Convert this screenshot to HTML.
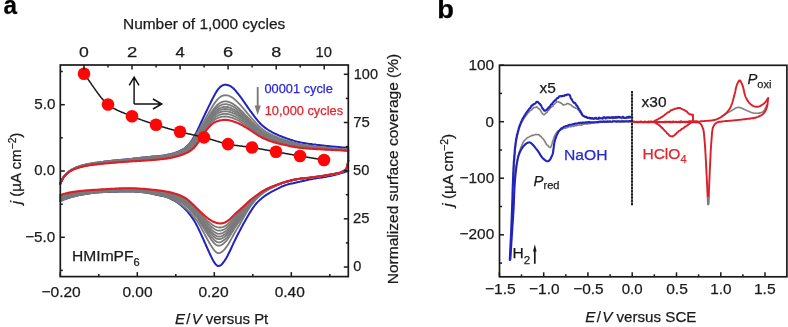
<!DOCTYPE html>
<html><head><meta charset="utf-8"><style>
html,body{margin:0;padding:0;background:#fff;width:788px;height:327px;overflow:hidden}
svg{display:block;will-change:transform;font-family:"Liberation Sans",sans-serif}
</style></head><body>
<svg width="788" height="327" viewBox="0 0 788 327" font-family='"Liberation Sans", sans-serif'>
<g fill="none" stroke-linejoin="round" stroke-linecap="round">
<path d="M60.3,183.5l1-2.4 1-2.1 1-1.7 1-1.3 1-1.1 1-1 1-1 1-.8 1-.8 1-.7 1-.7 1-.6 1-.5 1-.5 1-.5 1-.4 1-.4 1-.4 1-.3 1-.4 1-.3 1-.2 1-.3 1-.2 1-.3 1-.2 1-.2 1-.2 1-.2 1-.1 1-.2 1-.2 1-.2 1-.1 1-.2 1-.1 1-.1 1-.2 1-.1 1-.2 1-.1 1-.1 1-.1 1-.2 1-.1 1-.1 1-.1 1-.1 1-.1 1-.2 1-.1 1-.1 1-.1 1-.1 1-.1 1-.1 1-.1 1-.1 1-.1 1-.1 1-.1 1 0 1-.1 1-.1 1-.1 1-.1 1-.1 1-.1 1-.1 1-.1 1-.1 1-.1 1-.2 1-.1 1-.1 1-.1 1-.1 1-.1 1-.2 1-.1 1-.1 1-.1 1-.1 1-.1 1-.1 1-.1 1-.1 1-.1 1-.1 1-.1 1-.1 1-.1 1-.1 1 0 1-.1 1-.1 1 0 1-.1 1-.1 1-.1 1-.2 1-.1 1-.1 1-.2 1-.2 1-.2 1-.2 1-.2 1-.2 1-.2 1-.3 1-.3 1-.2 1-.3 1-.4 1-.3 1-.4 1-.4 1-.4 1-.5 1-.5 1-.5 1-.6 1-.6 1-.8 1-.8 1-.9 1-1 1-1.2 1-1.2 1-1.4 1-1.5 1-1.6 1-1.7 1-1.9 1-1.9 1-2 1-2.1 1-2.1 1-2.2 1-2.2 1-2.2 1-2.1 1-2.1 1-2.1 1-2 1-2.1 1-2 1-2 1-2 1-2.1 1-2 1-1.9 1-1.9 1-1.9 1-1.7 1-1.5 1-1.4 1-1.1 1-1 1-.8 1-.6 1-.4 1-.3 1-.1 1 0 1 .2 1 .3 1 .4 1 .5 1 .6 1 .8 1 .8 1 1 1 1.1 1 1.2 1 1.2 1 1.2 1 1.3 1 1.3 1 1.4 1 1.4 1 1.4 1 1.5 1 1.4 1 1.5 1 1.4 1 1.5 1 1.4 1 1.4 1 1.3 1 1.4 1 1.3 1 1.4 1 1.3 1 1.2 1 1.3 1 1.2 1 1.1 1 1.1 1 1 1 .9 1 .9 1 .8 1 .8 1 .7 1 .7 1 .7 1 .6 1 .6 1 .5 1 .6 1 .5 1 .5 1 .5 1 .4 1 .5 1 .4 1 .5 1 .4 1 .4 1 .4 1 .4 1 .3 1 .4 1 .4 1 .3 1 .4 1 .3 1 .4 1 .3 1 .3 1 .3 1 .3 1 .3 1 .2 1 .3 1 .2 1 .2 1 .3 1 .2 1 .1 1 .2 1 .2 1 .2 1 .1 1 .2 1 .1 1 .2 1 .1 1 .1 1 .2 1 .1 1 .1 1 .1 1 .2 1 .1 1 .1 1 .1 1 .1 1 .1 1 .2 1 .1 1 .1 1 .1 1 .1 1 .1 1 .1 1 .1 1 .1 1 .1 1 .1 1 .1 1 .1 1 .1 1 0 1 .1 1 .1 1 .1 1 .1 1 .1 1 .1 1 .1 1 .1 1 .1 1 .1 1 .1 1 .1" stroke="#2222bc" stroke-width="2"/>
<path d="M60.3,201l1-.4 1-.4 1-.4 1-.4 1-.3 1-.4 1-.3 1-.4 1-.3 1-.3 1-.3 1-.3 1-.2 1-.3 1-.3 1-.2 1-.2 1-.3 1-.2 1-.2 1-.1 1-.2 1-.2 1-.2 1-.1 1-.2 1-.2 1-.1 1-.2 1-.1 1-.2 1-.1 1-.1 1-.1 1-.1 1-.1 1-.1 1-.1 1-.1 1 0 1-.1 1 0 1-.1 1 0 1 0 1-.1 1 0 1-.1 1 0 1 0 1-.1 1 0 1 0 1-.1 1 0 1 0 1 0 1-.1 1 0 1 0 1 0 1 0 1-.1 1 0 1 0 1 0 1 0 1 0 1 0 1 0 1 0 1 0 1 .1 1 0 1 .1 1 0 1 .1 1 .1 1 .1 1 0 1 .1 1 .1 1 .1 1 .1 1 .1 1 .2 1 .1 1 .2 1 .2 1 .1 1 .3 1 .2 1 .2 1 .2 1 .3 1 .2 1 .2 1 .2 1 .2 1 .2 1 .2 1 .2 1 .2 1 .3 1 .2 1 .3 1 .4 1 .3 1 .4 1 .5 1 .5 1 .5 1 .5 1 .6 1 .6 1 .6 1 .7 1 .7 1 .7 1 .8 1 .9 1 .8 1 .9 1 1 1 1 1 1 1 1.1 1 1.2 1 1.2 1 1.3 1 1.3 1 1.4 1 1.6 1 1.5 1 1.7 1 1.9 1 1.9 1 2 1 2.1 1 2.1 1 2.2 1 2.2 1 2.2 1 2.3 1 2.2 1 2.3 1 2.2 1 2.3 1 2.2 1 2.1 1 2.1 1 2 1 1.8 1 1.7 1 1.4 1 1.1 1 .8 1 .3 1-.1 1-.5 1-.7 1-1 1-1.2 1-1.4 1-1.5 1-1.6 1-1.8 1-1.9 1-2 1-2.1 1-2.2 1-2.1 1-2.2 1-2.1 1-2.1 1-2 1-2 1-2 1-1.9 1-1.9 1-1.9 1-1.9 1-1.8 1-1.8 1-1.8 1-1.8 1-1.7 1-1.7 1-1.7 1-1.7 1-1.5 1-1.6 1-1.4 1-1.4 1-1.3 1-1.2 1-1.1 1-1 1-1 1-.9 1-.8 1-.9 1-.7 1-.8 1-.7 1-.7 1-.6 1-.6 1-.6 1-.6 1-.6 1-.5 1-.5 1-.6 1-.5 1-.5 1-.5 1-.5 1-.5 1-.5 1-.5 1-.4 1-.4 1-.4 1-.4 1-.3 1-.3 1-.3 1-.2 1-.3 1-.2 1-.2 1-.2 1-.3 1-.2 1-.2 1-.2 1-.2 1-.2 1-.3 1-.2 1-.3 1-.2 1-.2 1-.3 1-.2 1-.2 1-.2 1-.3 1-.2 1-.1 1-.2 1-.2 1-.2 1-.1 1-.2 1-.2 1-.1 1-.2 1-.1 1-.2 1-.1 1-.2 1-.1 1-.2 1-.2 1-.2 1-.2 1-.2 1-.2 1-.2 1-.2 1-.2 1-.3 1-.2 1-.3 1-.3 1-.2 1-.3 1-.3 1-.3 1-.3 1-.3 1-.3 1-.3 1-.3 1-.4 1-.3" stroke="#2222bc" stroke-width="2"/>
<path d="M60.3,183.5l1-2.4 1-2.1 1-1.7 1-1.3 1-1.1 1-1 1-1 1-.8 1-.8 1-.7 1-.7 1-.6 1-.5 1-.5 1-.5 1-.4 1-.4 1-.4 1-.3 1-.4 1-.3 1-.2 1-.3 1-.2 1-.3 1-.2 1-.2 1-.2 1-.2 1-.1 1-.2 1-.2 1-.2 1-.1 1-.2 1-.1 1-.1 1-.2 1-.1 1-.2 1-.1 1-.1 1-.1 1-.2 1-.1 1-.1 1-.1 1-.1 1-.1 1-.2 1-.1 1-.1 1-.1 1-.1 1-.1 1-.1 1-.1 1-.1 1-.1 1-.1 1-.1 1 0 1-.1 1-.1 1-.1 1-.1 1-.1 1-.1 1-.1 1-.1 1-.1 1-.1 1-.2 1-.1 1-.1 1-.1 1-.1 1-.1 1-.2 1-.1 1-.1 1-.1 1-.1 1-.1 1-.1 1-.1 1-.1 1-.1 1-.1 1-.1 1-.1 1-.1 1-.1 1 0 1-.1 1-.1 1 0 1-.1 1-.1 1-.1 1-.2 1-.1 1-.1 1-.2 1-.2 1-.2 1-.2 1-.2 1-.2 1-.2 1-.3 1-.3 1-.2 1-.3 1-.4 1-.3 1-.4 1-.4 1-.4 1-.5 1-.5 1-.5 1-.6 1-.6 1-.8 1-.8 1-.9 1-1 1-1 1-1.2 1-1.1 1-1.3 1-1.4 1-1.4 1-1.5 1-1.6 1-1.7 1-1.7 1-1.8 1-1.7 1-1.8 1-1.7 1-1.7 1-1.7 1-1.7 1-1.9 1-1.8 1-1.7 1-1.8 1-1.7 1-1.7 1-1.7 1-1.6 1-1.5 1-1.4 1-1.4 1-1.2 1-1 1-.9 1-.7 1-.7 1-.4 1-.4 1-.2 1-.1 1 .1 1 .1 1 .2 1 .4 1 .4 1 .6 1 .6 1 .7 1 .8 1 .8 1 .9 1 1 1 1 1 1 1 1.1 1 1.1 1 1.2 1 1.1 1 1.2 1 1.2 1 1.2 1 1.2 1 1.2 1 1.2 1 1.2 1 1.1 1 1.2 1 1.1 1 1.1 1 1.2 1 1 1 1.1 1 1 1 1 1 .9 1 .9 1 .8 1 .8 1 .7 1 .7 1 .6 1 .6 1 .6 1 .5 1 .6 1 .4 1 .5 1 .5 1 .4 1 .4 1 .4 1 .4 1 .4 1 .4 1 .4 1 .3 1 .4 1 .3 1 .3 1 .4 1 .3 1 .3 1 .3 1 .3 1 .3 1 .3 1 .3 1 .2 1 .3 1 .3 1 .2 1 .3 1 .2 1 .2 1 .2 1 .2 1 .2 1 .2 1 .1 1 .2 1 .2 1 .1 1 .1 1 .2 1 .1 1 .2 1 .1 1 .1 1 .1 1 .1 1 .2 1 .1 1 .1 1 .1 1 .1 1 .1 1 .1 1 .1 1 .1 1 .1 1 .1 1 .1 1 .1 1 .1 1 .1 1 .1 1 .1 1 .1 1 0 1 .1 1 .1 1 .1 1 .1 1 .1 1 .1 1 .1 1 0 1 .1 1 .1 1 .1 1 0 1 .1 1 .1" stroke="#7a7a7a" stroke-width="1.8"/>
<path d="M60.3,201l1-.4 1-.4 1-.4 1-.4 1-.3 1-.4 1-.3 1-.4 1-.3 1-.3 1-.3 1-.3 1-.2 1-.3 1-.3 1-.2 1-.2 1-.3 1-.2 1-.2 1-.1 1-.2 1-.2 1-.2 1-.1 1-.2 1-.2 1-.1 1-.2 1-.1 1-.2 1-.1 1-.1 1-.1 1-.1 1-.1 1-.1 1-.1 1-.1 1 0 1-.1 1 0 1-.1 1 0 1 0 1-.1 1 0 1-.1 1 0 1 0 1-.1 1 0 1 0 1-.1 1 0 1 0 1 0 1-.1 1 0 1 0 1 0 1 0 1-.1 1 0 1 0 1 0 1 0 1 0 1 0 1 0 1 0 1 0 1 .1 1 0 1 .1 1 0 1 .1 1 .1 1 .1 1 0 1 .1 1 .1 1 .1 1 .1 1 .1 1 .2 1 .1 1 .2 1 .2 1 .1 1 .3 1 .2 1 .2 1 .2 1 .3 1 .2 1 .2 1 .2 1 .2 1 .2 1 .2 1 .2 1 .2 1 .3 1 .2 1 .3 1 .4 1 .3 1 .4 1 .5 1 .5 1 .5 1 .5 1 .5 1 .6 1 .5 1 .6 1 .6 1 .7 1 .7 1 .7 1 .7 1 .8 1 .8 1 .8 1 .9 1 .9 1 1 1 1 1 1.1 1 1.1 1 1.2 1 1.2 1 1.2 1 1.2 1 1.2 1 1.2 1 1.6 1 1.7 1 1.8 1 1.8 1 1.9 1 1.8 1 1.8 1 1.9 1 1.8 1 1.8 1 1.8 1 1.8 1 1.7 1 1.6 1 1.6 1 1.4 1 1.3 1 1.1 1 .9 1 .6 1 .3 1 0 1-.4 1-.5 1-.7 1-.9 1-1.1 1-1.2 1-1.3 1-1.4 1-1.5 1-1.7 1-1.8 1-1.8 1-1.8 1-1.8 1-1.8 1-1.7 1-1.7 1-1.7 1-1.6 1-1.6 1-1.7 1-1.9 1-1.8 1-1.8 1-1.8 1-1.7 1-1.7 1-1.6 1-1.6 1-1.6 1-1.4 1-1.4 1-1.4 1-1.2 1-1.2 1-1.2 1-1 1-1 1-1 1-.9 1-.9 1-.8 1-.8 1-.8 1-.7 1-.7 1-.7 1-.6 1-.6 1-.6 1-.5 1-.5 1-.5 1-.5 1-.5 1-.5 1-.4 1-.5 1-.5 1-.4 1-.4 1-.4 1-.3 1-.3 1-.4 1-.3 1-.2 1-.3 1-.3 1-.3 1-.2 1-.3 1-.2 1-.2 1-.2 1-.3 1-.2 1-.1 1-.2 1-.2 1-.1 1-.2 1-.1 1-.1 1-.1 1-.1 1-.1 1-.1 1-.1 1-.1 1-.2 1-.1 1-.1 1-.1 1-.2 1-.1 1-.2 1-.1 1-.1 1-.2 1-.1 1-.2 1-.2 1-.1 1-.2 1-.1 1-.2 1-.2 1-.2 1-.1 1-.2 1-.2 1-.2 1-.1 1-.2 1-.2 1-.2 1-.2 1-.3 1-.2 1-.4 1-.3 1-.4 1-.5 1-.6 1-.7 1-1.1 1-1.9 1-5.9" stroke="#7a7a7a" stroke-width="1.8"/>
<path d="M60.3,183.6l1-2.3 1-2.1 1-1.8 1-1.3 1-1.1 1-1 1-1 1-.8 1-.8 1-.7 1-.6 1-.6 1-.5 1-.5 1-.5 1-.4 1-.4 1-.3 1-.3 1-.3 1-.3 1-.3 1-.3 1-.2 1-.2 1-.2 1-.2 1-.2 1-.2 1-.2 1-.1 1-.2 1-.2 1-.1 1-.1 1-.2 1-.1 1-.2 1-.1 1-.1 1-.1 1-.1 1-.2 1-.1 1-.1 1-.1 1-.1 1-.1 1-.1 1-.1 1-.2 1-.1 1-.1 1 0 1-.1 1-.1 1-.1 1-.1 1-.1 1-.1 1-.1 1-.1 1-.1 1-.1 1 0 1-.1 1-.1 1-.1 1-.1 1-.1 1-.1 1-.1 1-.1 1-.1 1-.1 1-.1 1-.1 1-.1 1-.1 1-.1 1-.1 1-.1 1-.1 1-.1 1-.1 1-.1 1-.1 1-.1 1-.1 1-.1 1-.1 1 0 1-.1 1-.1 1-.1 1 0 1-.1 1-.1 1-.1 1-.1 1-.1 1-.2 1-.1 1-.1 1-.2 1-.2 1-.2 1-.2 1-.2 1-.2 1-.2 1-.3 1-.2 1-.3 1-.3 1-.4 1-.3 1-.4 1-.4 1-.4 1-.5 1-.5 1-.5 1-.6 1-.6 1-.7 1-.8 1-.9 1-1 1-1 1-1 1-1.2 1-1.2 1-1.4 1-1.4 1-1.5 1-1.6 1-1.6 1-1.7 1-1.7 1-1.7 1-1.7 1-1.7 1-1.6 1-1.6 1-1.7 1-1.7 1-1.7 1-1.5 1-1.6 1-1.5 1-1.5 1-1.4 1-1.3 1-1.2 1-1.1 1-1 1-.8 1-.8 1-.6 1-.5 1-.4 1-.3 1-.2 1 0 1 0 1 .1 1 .3 1 .3 1 .4 1 .4 1 .6 1 .6 1 .6 1 .8 1 .7 1 .9 1 .8 1 .9 1 1 1 .9 1 1 1 1 1 1.1 1 1 1 1.1 1 1 1 1.1 1 1 1 1 1 1.1 1 1 1 1 1 1 1 1 1 1 1 1 1 .9 1 .9 1 .8 1 .8 1 .8 1 .7 1 .6 1 .6 1 .6 1 .6 1 .5 1 .5 1 .5 1 .4 1 .5 1 .4 1 .4 1 .4 1 .4 1 .3 1 .4 1 .3 1 .4 1 .3 1 .3 1 .3 1 .3 1 .3 1 .3 1 .3 1 .3 1 .3 1 .2 1 .3 1 .3 1 .2 1 .3 1 .2 1 .2 1 .3 1 .2 1 .2 1 .2 1 .1 1 .2 1 .1 1 .2 1 .1 1 .2 1 .1 1 .1 1 .1 1 .2 1 .1 1 .1 1 .1 1 .1 1 .1 1 .1 1 .1 1 .1 1 .1 1 .1 1 .1 1 .1 1 .1 1 .1 1 .1 1 .1 1 0 1 .1 1 .1 1 .1 1 .1 1 0 1 .1 1 .1 1 .1 1 0 1 .1 1 .1 1 .1 1 .1 1 0 1 .1 1 .1 1 .1 1 0 1 .1 1 .1 1 .1" stroke="#7a7a7a" stroke-width="1.8"/>
<path d="M60.3,199.5l1-.4 1-.4 1-.3 1-.4 1-.3 1-.3 1-.4 1-.3 1-.3 1-.2 1-.3 1-.3 1-.2 1-.2 1-.3 1-.2 1-.2 1-.2 1-.2 1-.1 1-.2 1-.2 1-.1 1-.2 1-.1 1-.2 1-.1 1-.2 1-.1 1-.1 1-.1 1-.2 1-.1 1-.1 1-.1 1 0 1-.1 1-.1 1-.1 1 0 1-.1 1 0 1-.1 1 0 1-.1 1 0 1 0 1-.1 1 0 1-.1 1 0 1 0 1-.1 1 0 1-.1 1 0 1 0 1 0 1-.1 1 0 1 0 1 0 1-.1 1 0 1 0 1 0 1 0 1 0 1 0 1 0 1 0 1 0 1 0 1 .1 1 0 1 .1 1 .1 1 0 1 .1 1 .1 1 .1 1 .1 1 .1 1 .1 1 .1 1 .1 1 .1 1 .2 1 .1 1 .2 1 .2 1 .1 1 .2 1 .2 1 .2 1 .2 1 .2 1 .2 1 .2 1 .2 1 .2 1 .2 1 .2 1 .2 1 .2 1 .3 1 .3 1 .3 1 .4 1 .4 1 .4 1 .4 1 .5 1 .5 1 .4 1 .5 1 .6 1 .5 1 .6 1 .6 1 .6 1 .7 1 .7 1 .7 1 .8 1 .8 1 .9 1 1 1 .9 1 1.1 1 1.1 1 1.1 1 1.1 1 1.1 1 1.2 1 1.2 1 1.1 1 1.4 1 1.6 1 1.6 1 1.6 1 1.6 1 1.6 1 1.6 1 1.6 1 1.6 1 1.5 1 1.6 1 1.4 1 1.5 1 1.4 1 1.3 1 1.2 1 1.1 1 .9 1 .8 1 .5 1 .2 1 0 1-.2 1-.4 1-.6 1-.8 1-.8 1-1 1-1.1 1-1.2 1-1.4 1-1.4 1-1.6 1-1.6 1-1.6 1-1.6 1-1.6 1-1.5 1-1.5 1-1.5 1-1.4 1-1.5 1-1.5 1-1.6 1-1.6 1-1.6 1-1.6 1-1.5 1-1.5 1-1.4 1-1.5 1-1.3 1-1.3 1-1.3 1-1.2 1-1.2 1-1 1-1.1 1-.9 1-1 1-.9 1-.8 1-.9 1-.8 1-.7 1-.8 1-.7 1-.6 1-.6 1-.6 1-.6 1-.5 1-.5 1-.5 1-.5 1-.4 1-.5 1-.5 1-.4 1-.5 1-.4 1-.4 1-.4 1-.4 1-.3 1-.3 1-.3 1-.3 1-.3 1-.3 1-.3 1-.2 1-.3 1-.2 1-.3 1-.2 1-.2 1-.2 1-.2 1-.2 1-.2 1-.2 1-.1 1-.1 1-.2 1-.1 1-.1 1-.1 1-.1 1-.1 1-.1 1-.1 1-.1 1-.1 1-.2 1-.1 1-.1 1-.2 1-.1 1-.1 1-.2 1-.1 1-.2 1-.1 1-.2 1-.2 1-.1 1-.2 1-.1 1-.2 1-.2 1-.2 1-.1 1-.2 1-.2 1-.2 1-.2 1-.1 1-.2 1-.2 1-.3 1-.3 1-.3 1-.3 1-.5 1-.4 1-.6 1-.8 1-1.1 1-1.9 1-6.1" stroke="#7a7a7a" stroke-width="1.8"/>
<path d="M60.3,183.7l1-2.4 1-2.1 1-1.7 1-1.3 1-1.2 1-1 1-.9 1-.9 1-.7 1-.7 1-.6 1-.6 1-.5 1-.5 1-.5 1-.4 1-.3 1-.4 1-.3 1-.3 1-.3 1-.3 1-.2 1-.2 1-.3 1-.2 1-.2 1-.2 1-.1 1-.2 1-.2 1-.1 1-.2 1-.1 1-.2 1-.1 1-.1 1-.2 1-.1 1-.1 1-.1 1-.1 1-.2 1-.1 1-.1 1-.1 1-.1 1-.1 1-.1 1-.1 1-.1 1-.1 1-.1 1-.1 1-.1 1-.1 1-.1 1-.1 1-.1 1 0 1-.1 1-.1 1-.1 1-.1 1-.1 1-.1 1 0 1-.1 1-.1 1-.1 1-.1 1-.1 1-.1 1-.1 1-.1 1-.1 1-.1 1-.1 1-.1 1-.1 1-.1 1-.1 1-.1 1 0 1-.1 1-.1 1-.1 1-.1 1-.1 1-.1 1-.1 1 0 1-.1 1-.1 1-.1 1-.1 1 0 1-.1 1-.1 1-.1 1-.1 1-.2 1-.1 1-.1 1-.2 1-.2 1-.1 1-.2 1-.2 1-.3 1-.2 1-.2 1-.3 1-.3 1-.3 1-.3 1-.3 1-.4 1-.4 1-.4 1-.4 1-.5 1-.5 1-.5 1-.7 1-.6 1-.8 1-.8 1-.9 1-.9 1-1.1 1-1.1 1-1.2 1-1.2 1-1.4 1-1.5 1-1.5 1-1.6 1-1.6 1-1.7 1-1.7 1-1.7 1-1.6 1-1.6 1-1.7 1-1.6 1-1.6 1-1.6 1-1.5 1-1.5 1-1.4 1-1.4 1-1.3 1-1.2 1-1.1 1-1 1-.9 1-.8 1-.7 1-.5 1-.5 1-.3 1-.3 1-.1 1-.1 1 0 1 .2 1 .2 1 .3 1 .3 1 .5 1 .4 1 .6 1 .6 1 .7 1 .7 1 .8 1 .8 1 .8 1 .9 1 .9 1 .9 1 .9 1 1 1 1 1 1 1 .9 1 1 1 1 1 1 1 .9 1 1 1 1 1 1 1 .9 1 1 1 .9 1 .9 1 .8 1 .8 1 .7 1 .7 1 .7 1 .6 1 .6 1 .6 1 .5 1 .5 1 .5 1 .5 1 .4 1 .4 1 .4 1 .4 1 .4 1 .4 1 .3 1 .3 1 .4 1 .3 1 .3 1 .3 1 .3 1 .3 1 .3 1 .3 1 .2 1 .3 1 .3 1 .3 1 .2 1 .3 1 .2 1 .3 1 .2 1 .2 1 .2 1 .2 1 .2 1 .2 1 .1 1 .2 1 .1 1 .2 1 .1 1 .1 1 .2 1 .1 1 .1 1 .1 1 .1 1 .1 1 .1 1 .1 1 .1 1 .1 1 .1 1 .1 1 .1 1 .1 1 .1 1 .1 1 .1 1 0 1 .1 1 .1 1 .1 1 .1 1 0 1 .1 1 .1 1 0 1 .1 1 .1 1 .1 1 0 1 .1 1 .1 1 .1 1 0 1 .1 1 .1 1 0 1 .1 1 .1 1 .1 1 0 1 .1" stroke="#7a7a7a" stroke-width="1.8"/>
<path d="M60.3,198.8l1-.4 1-.3 1-.4 1-.3 1-.3 1-.4 1-.3 1-.3 1-.2 1-.3 1-.3 1-.2 1-.2 1-.3 1-.2 1-.2 1-.2 1-.2 1-.1 1-.2 1-.2 1-.1 1-.2 1-.1 1-.1 1-.2 1-.1 1-.1 1-.2 1-.1 1-.1 1-.1 1-.1 1-.1 1-.1 1-.1 1 0 1-.1 1-.1 1 0 1-.1 1 0 1-.1 1 0 1-.1 1 0 1-.1 1 0 1-.1 1 0 1-.1 1 0 1 0 1-.1 1 0 1 0 1-.1 1 0 1 0 1-.1 1 0 1 0 1 0 1-.1 1 0 1 0 1 0 1 0 1 0 1 0 1 0 1 0 1 .1 1 0 1 .1 1 0 1 .1 1 0 1 .1 1 .1 1 .1 1 .1 1 .1 1 .1 1 .1 1 .1 1 .1 1 .1 1 .2 1 .1 1 .2 1 .2 1 .2 1 .2 1 .1 1 .2 1 .2 1 .2 1 .2 1 .1 1 .2 1 .2 1 .2 1 .2 1 .2 1 .3 1 .2 1 .4 1 .3 1 .4 1 .3 1 .5 1 .4 1 .4 1 .5 1 .5 1 .4 1 .6 1 .5 1 .6 1 .6 1 .6 1 .7 1 .7 1 .8 1 .8 1 .8 1 1 1 .9 1 1 1 1.1 1 1.1 1 1.1 1 1.1 1 1.1 1 1.2 1 1.1 1 1.3 1 1.5 1 1.5 1 1.5 1 1.5 1 1.5 1 1.5 1 1.5 1 1.4 1 1.5 1 1.4 1 1.4 1 1.3 1 1.3 1 1.1 1 1.1 1 1 1 .9 1 .7 1 .5 1 .2 1 0 1-.2 1-.3 1-.6 1-.6 1-.8 1-.9 1-1 1-1.1 1-1.3 1-1.3 1-1.5 1-1.5 1-1.5 1-1.5 1-1.5 1-1.5 1-1.4 1-1.4 1-1.3 1-1.4 1-1.4 1-1.5 1-1.5 1-1.5 1-1.5 1-1.4 1-1.4 1-1.4 1-1.3 1-1.3 1-1.3 1-1.2 1-1.1 1-1.1 1-1 1-1 1-1 1-.9 1-.8 1-.9 1-.8 1-.8 1-.7 1-.7 1-.7 1-.6 1-.6 1-.6 1-.5 1-.6 1-.4 1-.5 1-.5 1-.5 1-.4 1-.4 1-.5 1-.4 1-.4 1-.5 1-.3 1-.4 1-.3 1-.4 1-.3 1-.3 1-.3 1-.2 1-.3 1-.3 1-.2 1-.3 1-.2 1-.2 1-.3 1-.2 1-.2 1-.2 1-.1 1-.2 1-.1 1-.2 1-.1 1-.1 1-.1 1-.1 1-.1 1-.1 1-.1 1-.1 1-.1 1-.1 1-.2 1-.1 1-.1 1-.2 1-.1 1-.2 1-.1 1-.1 1-.2 1-.2 1-.1 1-.2 1-.1 1-.2 1-.2 1-.1 1-.2 1-.2 1-.2 1-.1 1-.2 1-.2 1-.2 1-.1 1-.2 1-.2 1-.3 1-.3 1-.3 1-.4 1-.4 1-.5 1-.6 1-.7 1-1.1 1-1.9 1-6.2" stroke="#7a7a7a" stroke-width="1.8"/>
<path d="M60.3,183.7l1-2.3 1-2.1 1-1.7 1-1.4 1-1.1 1-1 1-1 1-.8 1-.8 1-.7 1-.6 1-.5 1-.5 1-.5 1-.4 1-.4 1-.4 1-.4 1-.3 1-.3 1-.3 1-.2 1-.3 1-.2 1-.2 1-.2 1-.2 1-.2 1-.2 1-.1 1-.2 1-.2 1-.1 1-.1 1-.2 1-.1 1-.1 1-.2 1-.1 1-.1 1-.1 1-.1 1-.2 1-.1 1-.1 1-.1 1-.1 1-.1 1-.1 1-.1 1-.1 1-.1 1-.1 1-.1 1-.1 1-.1 1 0 1-.1 1-.1 1-.1 1-.1 1-.1 1-.1 1 0 1-.1 1-.1 1-.1 1-.1 1-.1 1 0 1-.1 1-.1 1-.1 1-.1 1-.1 1-.1 1-.1 1-.1 1-.1 1 0 1-.1 1-.1 1-.1 1-.1 1-.1 1-.1 1-.1 1 0 1-.1 1-.1 1-.1 1-.1 1-.1 1 0 1-.1 1-.1 1-.1 1-.1 1-.1 1-.1 1-.1 1-.1 1-.1 1-.2 1-.1 1-.2 1-.2 1-.1 1-.2 1-.3 1-.2 1-.2 1-.3 1-.2 1-.3 1-.3 1-.4 1-.3 1-.4 1-.4 1-.4 1-.5 1-.4 1-.6 1-.5 1-.7 1-.7 1-.8 1-.8 1-.9 1-.9 1-1.1 1-1.1 1-1.3 1-1.3 1-1.4 1-1.5 1-1.6 1-1.6 1-1.6 1-1.7 1-1.7 1-1.6 1-1.6 1-1.6 1-1.6 1-1.6 1-1.5 1-1.4 1-1.4 1-1.4 1-1.2 1-1.2 1-1.2 1-1 1-.9 1-.8 1-.7 1-.6 1-.5 1-.4 1-.3 1-.3 1-.1 1-.1 1 .1 1 .1 1 .2 1 .3 1 .3 1 .4 1 .5 1 .5 1 .6 1 .6 1 .6 1 .7 1 .8 1 .7 1 .8 1 .9 1 .8 1 .9 1 .9 1 .9 1 .9 1 1 1 .9 1 .9 1 .9 1 .9 1 1 1 .9 1 .9 1 .9 1 .9 1 .9 1 .8 1 .8 1 .8 1 .7 1 .7 1 .6 1 .6 1 .6 1 .5 1 .5 1 .5 1 .5 1 .4 1 .4 1 .4 1 .4 1 .4 1 .4 1 .3 1 .3 1 .4 1 .3 1 .3 1 .3 1 .3 1 .3 1 .2 1 .3 1 .3 1 .3 1 .2 1 .3 1 .3 1 .2 1 .2 1 .3 1 .2 1 .2 1 .2 1 .2 1 .2 1 .2 1 .2 1 .1 1 .2 1 .1 1 .1 1 .2 1 .1 1 .1 1 .1 1 .1 1 .1 1 .1 1 .1 1 .1 1 .1 1 .1 1 .1 1 .1 1 .1 1 .1 1 0 1 .1 1 .1 1 .1 1 .1 1 .1 1 0 1 .1 1 .1 1 0 1 .1 1 .1 1 0 1 .1 1 .1 1 0 1 .1 1 .1 1 .1 1 0 1 .1 1 .1 1 0 1 .1 1 .1 1 0 1 .1 1 .1 1 .1" stroke="#7a7a7a" stroke-width="1.8"/>
<path d="M60.3,198.2l1-.4 1-.3 1-.4 1-.3 1-.3 1-.3 1-.3 1-.3 1-.3 1-.2 1-.3 1-.2 1-.2 1-.3 1-.2 1-.2 1-.1 1-.2 1-.2 1-.1 1-.2 1-.1 1-.2 1-.1 1-.1 1-.1 1-.2 1-.1 1-.1 1-.1 1-.1 1-.1 1-.1 1-.1 1-.1 1-.1 1-.1 1 0 1-.1 1 0 1-.1 1 0 1-.1 1 0 1-.1 1 0 1-.1 1 0 1-.1 1 0 1-.1 1 0 1-.1 1 0 1 0 1-.1 1 0 1 0 1-.1 1 0 1 0 1-.1 1 0 1 0 1 0 1 0 1 0 1-.1 1 0 1 0 1 .1 1 0 1 0 1 .1 1 0 1 .1 1 0 1 .1 1 .1 1 0 1 .1 1 .1 1 .1 1 .1 1 .1 1 .1 1 .1 1 .1 1 .2 1 .1 1 .2 1 .1 1 .2 1 .2 1 .2 1 .1 1 .2 1 .2 1 .1 1 .2 1 .2 1 .1 1 .2 1 .2 1 .2 1 .3 1 .2 1 .3 1 .4 1 .3 1 .4 1 .4 1 .4 1 .4 1 .4 1 .4 1 .5 1 .5 1 .5 1 .6 1 .5 1 .6 1 .7 1 .7 1 .7 1 .8 1 .8 1 .9 1 1 1 1 1 1 1 1.1 1 1 1 1.1 1 1.1 1 1.1 1 1.1 1 1.3 1 1.4 1 1.4 1 1.4 1 1.4 1 1.4 1 1.4 1 1.4 1 1.4 1 1.3 1 1.3 1 1.3 1 1.2 1 1.1 1 1.1 1 1 1 .9 1 .8 1 .6 1 .5 1 .2 1 0 1-.1 1-.3 1-.5 1-.6 1-.7 1-.8 1-.9 1-1.1 1-1.1 1-1.3 1-1.4 1-1.4 1-1.4 1-1.4 1-1.4 1-1.4 1-1.3 1-1.3 1-1.3 1-1.3 1-1.3 1-1.4 1-1.4 1-1.4 1-1.4 1-1.4 1-1.3 1-1.3 1-1.3 1-1.2 1-1.2 1-1.1 1-1.1 1-1 1-1 1-.9 1-.9 1-.9 1-.9 1-.8 1-.8 1-.7 1-.8 1-.7 1-.6 1-.6 1-.6 1-.6 1-.5 1-.5 1-.5 1-.5 1-.4 1-.5 1-.4 1-.4 1-.5 1-.4 1-.4 1-.4 1-.4 1-.3 1-.4 1-.3 1-.3 1-.3 1-.3 1-.3 1-.2 1-.3 1-.3 1-.2 1-.2 1-.3 1-.2 1-.2 1-.2 1-.2 1-.2 1-.1 1-.2 1-.1 1-.1 1-.1 1-.1 1-.1 1-.1 1-.1 1-.1 1-.1 1-.1 1-.2 1-.1 1-.1 1-.2 1-.1 1-.1 1-.2 1-.1 1-.2 1-.1 1-.2 1-.1 1-.2 1-.1 1-.2 1-.2 1-.2 1-.1 1-.2 1-.2 1-.1 1-.2 1-.2 1-.2 1-.2 1-.1 1-.3 1-.2 1-.3 1-.3 1-.4 1-.4 1-.5 1-.6 1-.7 1-1.1 1-2 1-6.2" stroke="#7a7a7a" stroke-width="1.8"/>
<path d="M60.3,183.8l1-2.3 1-2.2 1-1.7 1-1.3 1-1.2 1-1 1-.9 1-.9 1-.7 1-.7 1-.6 1-.6 1-.5 1-.4 1-.5 1-.4 1-.3 1-.4 1-.3 1-.3 1-.2 1-.3 1-.3 1-.2 1-.2 1-.2 1-.2 1-.2 1-.2 1-.1 1-.2 1-.1 1-.2 1-.1 1-.1 1-.2 1-.1 1-.1 1-.1 1-.2 1-.1 1-.1 1-.1 1-.1 1-.1 1-.1 1-.1 1-.1 1-.1 1-.1 1-.1 1-.1 1-.1 1-.1 1-.1 1-.1 1-.1 1 0 1-.1 1-.1 1-.1 1-.1 1-.1 1 0 1-.1 1-.1 1-.1 1-.1 1 0 1-.1 1-.1 1-.1 1-.1 1-.1 1-.1 1 0 1-.1 1-.1 1-.1 1-.1 1-.1 1-.1 1 0 1-.1 1-.1 1-.1 1-.1 1-.1 1 0 1-.1 1-.1 1-.1 1-.1 1 0 1-.1 1-.1 1-.1 1-.1 1-.1 1-.1 1-.1 1-.1 1-.1 1-.2 1-.1 1-.2 1-.2 1-.1 1-.2 1-.2 1-.2 1-.3 1-.2 1-.3 1-.3 1-.3 1-.3 1-.3 1-.4 1-.4 1-.4 1-.4 1-.5 1-.5 1-.5 1-.7 1-.6 1-.8 1-.7 1-.9 1-.9 1-1 1-1.1 1-1.2 1-1.3 1-1.4 1-1.5 1-1.5 1-1.6 1-1.6 1-1.7 1-1.6 1-1.7 1-1.5 1-1.6 1-1.6 1-1.5 1-1.4 1-1.4 1-1.4 1-1.3 1-1.2 1-1.1 1-1 1-1 1-.8 1-.7 1-.7 1-.5 1-.5 1-.4 1-.3 1-.2 1-.1 1-.1 1 .1 1 .1 1 .2 1 .3 1 .3 1 .4 1 .4 1 .5 1 .5 1 .6 1 .6 1 .6 1 .7 1 .8 1 .7 1 .8 1 .8 1 .8 1 .9 1 .8 1 .9 1 .9 1 .8 1 .9 1 .9 1 .9 1 .8 1 .9 1 .9 1 .9 1 .8 1 .9 1 .8 1 .7 1 .8 1 .7 1 .6 1 .6 1 .6 1 .6 1 .5 1 .5 1 .4 1 .5 1 .4 1 .4 1 .4 1 .4 1 .3 1 .4 1 .3 1 .3 1 .4 1 .3 1 .3 1 .3 1 .2 1 .3 1 .3 1 .3 1 .2 1 .3 1 .2 1 .3 1 .2 1 .3 1 .2 1 .3 1 .2 1 .2 1 .2 1 .2 1 .2 1 .1 1 .2 1 .1 1 .2 1 .1 1 .1 1 .1 1 .2 1 .1 1 .1 1 .1 1 .1 1 .1 1 .1 1 .1 1 0 1 .1 1 .1 1 .1 1 .1 1 .1 1 .1 1 0 1 .1 1 .1 1 .1 1 0 1 .1 1 .1 1 0 1 .1 1 .1 1 0 1 .1 1 .1 1 0 1 .1 1 .1 1 0 1 .1 1 .1 1 0 1 .1 1 .1 1 0 1 .1 1 .1 1 0 1 .1 1 .1" stroke="#7a7a7a" stroke-width="1.8"/>
<path d="M60.3,197.7l1-.4 1-.3 1-.4 1-.3 1-.3 1-.3 1-.3 1-.3 1-.2 1-.3 1-.2 1-.2 1-.2 1-.2 1-.2 1-.2 1-.2 1-.2 1-.1 1-.2 1-.1 1-.1 1-.2 1-.1 1-.1 1-.1 1-.2 1-.1 1-.1 1-.1 1-.1 1-.1 1-.1 1-.1 1 0 1-.1 1-.1 1-.1 1 0 1-.1 1 0 1-.1 1 0 1-.1 1 0 1-.1 1 0 1-.1 1 0 1-.1 1 0 1-.1 1 0 1-.1 1 0 1 0 1-.1 1 0 1-.1 1 0 1 0 1 0 1-.1 1 0 1 0 1 0 1 0 1 0 1 0 1 0 1 0 1 0 1 0 1 .1 1 0 1 .1 1 0 1 .1 1 .1 1 .1 1 0 1 .1 1 .1 1 .1 1 .1 1 .1 1 .1 1 .1 1 .1 1 .2 1 .1 1 .2 1 .2 1 .1 1 .2 1 .2 1 .1 1 .2 1 .1 1 .2 1 .2 1 .1 1 .2 1 .2 1 .2 1 .2 1 .3 1 .3 1 .3 1 .3 1 .3 1 .4 1 .4 1 .4 1 .4 1 .4 1 .4 1 .5 1 .5 1 .5 1 .6 1 .6 1 .6 1 .6 1 .7 1 .8 1 .8 1 .9 1 1 1 .9 1 1 1 1.1 1 1 1 1.1 1 1.1 1 1.1 1 1.1 1 1.2 1 1.3 1 1.4 1 1.3 1 1.3 1 1.4 1 1.3 1 1.3 1 1.3 1 1.2 1 1.2 1 1.2 1 1.1 1 1.1 1 1 1 .9 1 .8 1 .7 1 .6 1 .4 1 .3 1 0 1-.1 1-.3 1-.4 1-.5 1-.7 1-.7 1-.9 1-1 1-1.1 1-1.2 1-1.2 1-1.4 1-1.3 1-1.4 1-1.3 1-1.3 1-1.3 1-1.2 1-1.3 1-1.2 1-1.2 1-1.4 1-1.3 1-1.3 1-1.3 1-1.3 1-1.3 1-1.2 1-1.2 1-1.2 1-1.1 1-1.1 1-1 1-1 1-1 1-.9 1-.9 1-.8 1-.8 1-.8 1-.8 1-.7 1-.8 1-.6 1-.7 1-.6 1-.6 1-.5 1-.5 1-.5 1-.5 1-.5 1-.4 1-.4 1-.5 1-.4 1-.4 1-.4 1-.4 1-.4 1-.4 1-.4 1-.3 1-.3 1-.3 1-.3 1-.3 1-.3 1-.3 1-.2 1-.3 1-.2 1-.3 1-.2 1-.2 1-.2 1-.2 1-.2 1-.2 1-.2 1-.1 1-.1 1-.1 1-.1 1-.1 1-.1 1-.1 1-.1 1-.1 1-.2 1-.1 1-.1 1-.1 1-.1 1-.2 1-.1 1-.1 1-.2 1-.1 1-.2 1-.1 1-.2 1-.1 1-.2 1-.2 1-.1 1-.2 1-.2 1-.1 1-.2 1-.2 1-.2 1-.1 1-.2 1-.2 1-.2 1-.2 1-.2 1-.2 1-.3 1-.3 1-.4 1-.4 1-.5 1-.6 1-.8 1-1.1 1-1.9 1-6.3" stroke="#7a7a7a" stroke-width="1.8"/>
<path d="M60.3,183.8l1-2.3 1-2.1 1-1.7 1-1.4 1-1.1 1-1.1 1-.9 1-.8 1-.8 1-.7 1-.6 1-.5 1-.5 1-.5 1-.4 1-.4 1-.3 1-.3 1-.4 1-.3 1-.2 1-.3 1-.2 1-.3 1-.2 1-.2 1-.2 1-.1 1-.2 1-.2 1-.1 1-.2 1-.1 1-.2 1-.1 1-.1 1-.1 1-.2 1-.1 1-.1 1-.1 1-.1 1-.1 1-.1 1-.1 1-.1 1-.1 1-.1 1-.1 1-.1 1-.1 1-.1 1-.1 1-.1 1-.1 1-.1 1-.1 1 0 1-.1 1-.1 1-.1 1-.1 1 0 1-.1 1-.1 1-.1 1-.1 1 0 1-.1 1-.1 1-.1 1-.1 1 0 1-.1 1-.1 1-.1 1-.1 1 0 1-.1 1-.1 1-.1 1-.1 1 0 1-.1 1-.1 1-.1 1-.1 1 0 1-.1 1-.1 1-.1 1-.1 1-.1 1 0 1-.1 1-.1 1-.1 1-.1 1-.1 1-.1 1-.1 1-.1 1-.1 1-.2 1-.1 1-.2 1-.1 1-.2 1-.2 1-.2 1-.2 1-.2 1-.3 1-.2 1-.3 1-.3 1-.3 1-.3 1-.4 1-.4 1-.3 1-.5 1-.4 1-.5 1-.5 1-.6 1-.6 1-.7 1-.7 1-.9 1-.8 1-1 1-1.1 1-1.1 1-1.3 1-1.4 1-1.4 1-1.5 1-1.5 1-1.6 1-1.7 1-1.6 1-1.6 1-1.6 1-1.5 1-1.5 1-1.5 1-1.4 1-1.3 1-1.3 1-1.2 1-1.2 1-1 1-1 1-.8 1-.8 1-.6 1-.6 1-.5 1-.4 1-.4 1-.2 1-.2 1-.1 1-.1 1 .1 1 .1 1 .2 1 .2 1 .3 1 .4 1 .4 1 .4 1 .5 1 .5 1 .6 1 .6 1 .6 1 .7 1 .7 1 .7 1 .8 1 .8 1 .8 1 .8 1 .8 1 .8 1 .8 1 .8 1 .8 1 .9 1 .8 1 .8 1 .9 1 .8 1 .8 1 .8 1 .8 1 .7 1 .7 1 .7 1 .6 1 .6 1 .5 1 .6 1 .5 1 .5 1 .4 1 .5 1 .4 1 .4 1 .3 1 .4 1 .3 1 .4 1 .3 1 .3 1 .3 1 .3 1 .3 1 .3 1 .2 1 .3 1 .3 1 .2 1 .3 1 .2 1 .3 1 .2 1 .3 1 .2 1 .2 1 .3 1 .2 1 .2 1 .2 1 .2 1 .1 1 .2 1 .1 1 .2 1 .1 1 .1 1 .1 1 .2 1 .1 1 .1 1 .1 1 .1 1 .1 1 0 1 .1 1 .1 1 .1 1 .1 1 .1 1 0 1 .1 1 .1 1 .1 1 .1 1 0 1 .1 1 .1 1 0 1 .1 1 .1 1 0 1 .1 1 .1 1 0 1 .1 1 0 1 .1 1 .1 1 0 1 .1 1 0 1 .1 1 .1 1 0 1 .1 1 .1 1 0 1 .1 1 .1 1 0 1 .1" stroke="#7a7a7a" stroke-width="1.8"/>
<path d="M60.3,197.1l1-.3 1-.4 1-.3 1-.3 1-.3 1-.3 1-.3 1-.2 1-.3 1-.2 1-.2 1-.3 1-.2 1-.2 1-.1 1-.2 1-.2 1-.2 1-.1 1-.1 1-.2 1-.1 1-.1 1-.1 1-.2 1-.1 1-.1 1-.1 1-.1 1-.1 1-.1 1-.1 1-.1 1 0 1-.1 1-.1 1-.1 1 0 1-.1 1 0 1-.1 1 0 1-.1 1-.1 1 0 1-.1 1 0 1-.1 1 0 1-.1 1 0 1-.1 1 0 1 0 1-.1 1 0 1-.1 1 0 1 0 1-.1 1 0 1 0 1-.1 1 0 1 0 1 0 1 0 1 0 1 0 1 0 1 0 1 0 1 0 1 .1 1 0 1 .1 1 0 1 .1 1 .1 1 0 1 .1 1 .1 1 .1 1 .1 1 .1 1 .1 1 .1 1 .1 1 .1 1 .1 1 .2 1 .1 1 .2 1 .1 1 .2 1 .1 1 .2 1 .1 1 .2 1 .1 1 .2 1 .2 1 .1 1 .2 1 .2 1 .2 1 .3 1 .2 1 .3 1 .3 1 .3 1 .4 1 .3 1 .4 1 .4 1 .4 1 .4 1 .4 1 .5 1 .5 1 .5 1 .6 1 .6 1 .6 1 .7 1 .8 1 .8 1 .8 1 1 1 .9 1 1 1 1 1 1.1 1 1 1 1.1 1 1 1 1.1 1 1.2 1 1.2 1 1.3 1 1.3 1 1.2 1 1.3 1 1.2 1 1.2 1 1.2 1 1.1 1 1.1 1 1.1 1 1 1 1 1 .9 1 .8 1 .8 1 .6 1 .6 1 .4 1 .2 1 0 1-.1 1-.2 1-.3 1-.5 1-.6 1-.6 1-.8 1-.9 1-1.1 1-1.1 1-1.2 1-1.3 1-1.2 1-1.3 1-1.3 1-1.2 1-1.2 1-1.2 1-1.1 1-1.2 1-1.2 1-1.2 1-1.2 1-1.3 1-1.2 1-1.2 1-1.2 1-1.2 1-1.1 1-1.1 1-1.1 1-1.1 1-.9 1-1 1-.9 1-.9 1-.8 1-.8 1-.8 1-.8 1-.8 1-.7 1-.7 1-.6 1-.7 1-.6 1-.5 1-.6 1-.5 1-.4 1-.5 1-.5 1-.4 1-.4 1-.4 1-.5 1-.4 1-.4 1-.4 1-.4 1-.4 1-.3 1-.3 1-.4 1-.3 1-.3 1-.3 1-.2 1-.3 1-.3 1-.2 1-.3 1-.2 1-.2 1-.3 1-.2 1-.2 1-.2 1-.1 1-.2 1-.1 1-.1 1-.2 1-.1 1-.1 1-.1 1-.1 1-.1 1-.1 1-.1 1-.1 1-.1 1-.1 1-.1 1-.2 1-.1 1-.2 1-.1 1-.1 1-.2 1-.1 1-.2 1-.2 1-.1 1-.2 1-.1 1-.2 1-.2 1-.2 1-.1 1-.2 1-.2 1-.1 1-.2 1-.2 1-.2 1-.2 1-.2 1-.2 1-.3 1-.3 1-.4 1-.4 1-.5 1-.6 1-.8 1-1.1 1-2 1-6.3" stroke="#7a7a7a" stroke-width="1.8"/>
<path d="M60.3,183.9l1-2.3 1-2.1 1-1.8 1-1.3 1-1.2 1-1 1-1 1-.8 1-.7 1-.7 1-.6 1-.5 1-.5 1-.5 1-.4 1-.3 1-.4 1-.3 1-.3 1-.3 1-.3 1-.3 1-.2 1-.2 1-.2 1-.2 1-.2 1-.2 1-.2 1-.1 1-.2 1-.1 1-.2 1-.1 1-.1 1-.1 1-.2 1-.1 1-.1 1-.1 1-.1 1-.1 1-.1 1-.1 1-.1 1-.1 1-.1 1-.1 1-.1 1-.1 1-.1 1-.1 1-.1 1-.1 1-.1 1 0 1-.1 1-.1 1-.1 1-.1 1 0 1-.1 1-.1 1-.1 1 0 1-.1 1-.1 1-.1 1-.1 1 0 1-.1 1-.1 1-.1 1 0 1-.1 1-.1 1-.1 1 0 1-.1 1-.1 1-.1 1 0 1-.1 1-.1 1-.1 1 0 1-.1 1-.1 1-.1 1 0 1-.1 1-.1 1-.1 1-.1 1-.1 1 0 1-.1 1-.1 1-.1 1-.1 1-.1 1-.1 1-.2 1-.1 1-.1 1-.2 1-.1 1-.2 1-.2 1-.2 1-.2 1-.2 1-.2 1-.3 1-.3 1-.2 1-.3 1-.4 1-.3 1-.4 1-.3 1-.4 1-.4 1-.5 1-.5 1-.5 1-.6 1-.7 1-.6 1-.8 1-.8 1-.9 1-1.1 1-1.1 1-1.2 1-1.3 1-1.4 1-1.5 1-1.5 1-1.6 1-1.6 1-1.6 1-1.6 1-1.5 1-1.5 1-1.5 1-1.4 1-1.4 1-1.2 1-1.2 1-1.2 1-1 1-1 1-.8 1-.8 1-.7 1-.5 1-.5 1-.5 1-.3 1-.3 1-.2 1-.2 1-.1 1 0 1 0 1 .1 1 .2 1 .2 1 .3 1 .3 1 .4 1 .4 1 .4 1 .5 1 .5 1 .6 1 .5 1 .6 1 .7 1 .6 1 .7 1 .7 1 .8 1 .7 1 .7 1 .8 1 .7 1 .8 1 .8 1 .8 1 .7 1 .8 1 .8 1 .8 1 .8 1 .7 1 .8 1 .7 1 .6 1 .6 1 .6 1 .6 1 .5 1 .5 1 .5 1 .5 1 .4 1 .4 1 .4 1 .4 1 .3 1 .4 1 .3 1 .3 1 .3 1 .3 1 .3 1 .3 1 .3 1 .2 1 .3 1 .3 1 .2 1 .3 1 .2 1 .2 1 .3 1 .2 1 .3 1 .2 1 .2 1 .2 1 .2 1 .2 1 .2 1 .2 1 .1 1 .2 1 .1 1 .2 1 .1 1 .1 1 .1 1 .1 1 .1 1 .1 1 .1 1 .1 1 .1 1 .1 1 0 1 .1 1 .1 1 .1 1 0 1 .1 1 .1 1 .1 1 0 1 .1 1 .1 1 0 1 .1 1 .1 1 0 1 .1 1 0 1 .1 1 .1 1 0 1 .1 1 0 1 .1 1 0 1 .1 1 .1 1 0 1 .1 1 0 1 .1 1 .1 1 0 1 .1 1 .1 1 0 1 .1 1 .1" stroke="#7a7a7a" stroke-width="1.8"/>
<path d="M60.3,196.5l1-.4 1-.3 1-.3 1-.3 1-.3 1-.3 1-.2 1-.3 1-.2 1-.3 1-.2 1-.2 1-.2 1-.1 1-.2 1-.2 1-.1 1-.2 1-.1 1-.2 1-.1 1-.1 1-.1 1-.1 1-.1 1-.1 1-.1 1-.1 1-.1 1-.1 1-.1 1-.1 1-.1 1-.1 1 0 1-.1 1-.1 1 0 1-.1 1 0 1-.1 1 0 1-.1 1-.1 1 0 1-.1 1 0 1-.1 1 0 1-.1 1 0 1-.1 1 0 1-.1 1 0 1-.1 1 0 1 0 1-.1 1 0 1-.1 1 0 1 0 1 0 1-.1 1 0 1 0 1 0 1 0 1 0 1 0 1 0 1 .1 1 0 1 .1 1 0 1 .1 1 0 1 .1 1 .1 1 0 1 .1 1 .1 1 .1 1 .1 1 .1 1 .1 1 .1 1 .1 1 .1 1 .1 1 .2 1 .1 1 .2 1 .1 1 .1 1 .2 1 .1 1 .2 1 .1 1 .2 1 .1 1 .2 1 .1 1 .2 1 .2 1 .3 1 .2 1 .3 1 .2 1 .3 1 .4 1 .3 1 .3 1 .4 1 .4 1 .4 1 .4 1 .4 1 .5 1 .5 1 .5 1 .6 1 .6 1 .7 1 .7 1 .8 1 .8 1 .9 1 .9 1 1 1 1 1 1 1 1.1 1 1 1 1 1 1.1 1 1.1 1 1.2 1 1.1 1 1.2 1 1.2 1 1.1 1 1.1 1 1.1 1 1.1 1 1 1 1.1 1 .9 1 .9 1 .9 1 .8 1 .7 1 .7 1 .5 1 .5 1 .4 1 .2 1 .1 1-.1 1-.2 1-.3 1-.4 1-.4 1-.6 1-.7 1-.9 1-.9 1-1 1-1.2 1-1.1 1-1.2 1-1.2 1-1.2 1-1.1 1-1.1 1-1.1 1-1.1 1-1.1 1-1.1 1-1.1 1-1.2 1-1.1 1-1.1 1-1.2 1-1.1 1-1.1 1-1.1 1-1 1-1 1-1 1-.9 1-.9 1-.9 1-.8 1-.8 1-.8 1-.8 1-.7 1-.7 1-.8 1-.6 1-.7 1-.6 1-.6 1-.5 1-.5 1-.5 1-.5 1-.4 1-.5 1-.4 1-.4 1-.4 1-.4 1-.4 1-.4 1-.4 1-.4 1-.4 1-.3 1-.4 1-.3 1-.3 1-.3 1-.3 1-.3 1-.2 1-.3 1-.3 1-.2 1-.2 1-.3 1-.2 1-.2 1-.2 1-.2 1-.2 1-.1 1-.2 1-.1 1-.1 1-.1 1-.1 1-.1 1-.1 1-.1 1-.1 1-.1 1-.1 1-.1 1-.1 1-.2 1-.1 1-.1 1-.2 1-.1 1-.2 1-.1 1-.2 1-.1 1-.2 1-.1 1-.2 1-.2 1-.1 1-.2 1-.2 1-.1 1-.2 1-.2 1-.2 1-.1 1-.2 1-.2 1-.2 1-.2 1-.2 1-.3 1-.3 1-.4 1-.4 1-.5 1-.6 1-.8 1-1.1 1-2 1-6.4" stroke="#7a7a7a" stroke-width="1.8"/>
<path d="M60.3,183.9l1-2.3 1-2.1 1-1.7 1-1.3 1-1.2 1-1.1 1-.9 1-.8 1-.8 1-.6 1-.6 1-.5 1-.5 1-.5 1-.4 1-.3 1-.4 1-.3 1-.3 1-.3 1-.3 1-.2 1-.3 1-.2 1-.2 1-.2 1-.2 1-.1 1-.2 1-.2 1-.1 1-.1 1-.2 1-.1 1-.1 1-.2 1-.1 1-.1 1-.1 1-.1 1-.1 1-.1 1-.1 1-.1 1-.1 1-.1 1-.1 1-.1 1-.1 1-.1 1-.1 1-.1 1-.1 1 0 1-.1 1-.1 1-.1 1-.1 1 0 1-.1 1-.1 1-.1 1 0 1-.1 1-.1 1-.1 1 0 1-.1 1-.1 1-.1 1 0 1-.1 1-.1 1 0 1-.1 1-.1 1-.1 1 0 1-.1 1-.1 1 0 1-.1 1-.1 1 0 1-.1 1-.1 1-.1 1 0 1-.1 1-.1 1-.1 1 0 1-.1 1-.1 1-.1 1-.1 1-.1 1-.1 1-.1 1-.1 1-.1 1-.1 1-.1 1-.1 1-.2 1-.1 1-.1 1-.2 1-.2 1-.2 1-.2 1-.2 1-.2 1-.3 1-.2 1-.3 1-.3 1-.3 1-.3 1-.4 1-.3 1-.4 1-.4 1-.4 1-.5 1-.5 1-.5 1-.6 1-.6 1-.7 1-.8 1-.9 1-1 1-1 1-1.2 1-1.3 1-1.3 1-1.5 1-1.5 1-1.5 1-1.6 1-1.6 1-1.6 1-1.5 1-1.5 1-1.4 1-1.4 1-1.2 1-1.2 1-1.2 1-1 1-1 1-.8 1-.8 1-.7 1-.5 1-.5 1-.4 1-.4 1-.3 1-.3 1-.2 1-.1 1-.1 1 0 1 0 1 .1 1 .2 1 .2 1 .3 1 .3 1 .3 1 .4 1 .4 1 .4 1 .4 1 .5 1 .5 1 .6 1 .5 1 .7 1 .6 1 .6 1 .7 1 .7 1 .6 1 .7 1 .7 1 .7 1 .7 1 .7 1 .8 1 .7 1 .8 1 .7 1 .7 1 .8 1 .6 1 .7 1 .6 1 .6 1 .5 1 .6 1 .5 1 .5 1 .4 1 .5 1 .4 1 .4 1 .4 1 .3 1 .4 1 .3 1 .3 1 .3 1 .3 1 .3 1 .2 1 .3 1 .3 1 .2 1 .3 1 .2 1 .3 1 .2 1 .2 1 .3 1 .2 1 .2 1 .2 1 .3 1 .2 1 .2 1 .2 1 .2 1 .1 1 .2 1 .2 1 .1 1 .1 1 .1 1 .2 1 .1 1 .1 1 .1 1 .1 1 0 1 .1 1 .1 1 .1 1 .1 1 0 1 .1 1 .1 1 .1 1 0 1 .1 1 .1 1 0 1 .1 1 .1 1 0 1 .1 1 0 1 .1 1 .1 1 0 1 .1 1 0 1 .1 1 0 1 .1 1 0 1 .1 1 0 1 .1 1 0 1 .1 1 0 1 .1 1 .1 1 0 1 .1 1 .1 1 0 1 .1 1 0 1 .1" stroke="#7a7a7a" stroke-width="1.8"/>
<path d="M60.3,195.8l1-.3 1-.3 1-.3 1-.3 1-.3 1-.3 1-.2 1-.2 1-.3 1-.2 1-.2 1-.2 1-.2 1-.1 1-.2 1-.2 1-.1 1-.1 1-.2 1-.1 1-.1 1-.1 1-.1 1-.1 1-.1 1-.1 1-.1 1-.1 1-.1 1-.1 1 0 1-.1 1-.1 1-.1 1 0 1-.1 1-.1 1 0 1-.1 1 0 1-.1 1-.1 1 0 1-.1 1 0 1-.1 1 0 1-.1 1 0 1-.1 1-.1 1 0 1-.1 1 0 1-.1 1 0 1 0 1-.1 1 0 1-.1 1 0 1 0 1-.1 1 0 1 0 1 0 1 0 1 0 1-.1 1 .1 1 0 1 0 1 0 1 .1 1 0 1 0 1 .1 1 .1 1 0 1 .1 1 .1 1 .1 1 0 1 .1 1 .1 1 .1 1 .1 1 .1 1 .1 1 .1 1 .1 1 .1 1 .2 1 .1 1 .1 1 .2 1 .1 1 .1 1 .2 1 .1 1 .1 1 .2 1 .1 1 .2 1 .2 1 .2 1 .2 1 .2 1 .2 1 .3 1 .3 1 .2 1 .3 1 .4 1 .3 1 .3 1 .4 1 .4 1 .4 1 .4 1 .5 1 .5 1 .6 1 .5 1 .7 1 .7 1 .8 1 .8 1 .9 1 .9 1 .9 1 1 1 1 1 1 1 1 1 1 1 1 1 1.1 1 1.1 1 1.1 1 1 1 1.1 1 1.1 1 1 1 1 1 .9 1 1 1 .9 1 .8 1 .8 1 .8 1 .7 1 .6 1 .6 1 .5 1 .4 1 .3 1 .2 1 .1 1 0 1-.2 1-.2 1-.3 1-.4 1-.5 1-.7 1-.7 1-.8 1-1 1-1 1-1.1 1-1.1 1-1.1 1-1.1 1-1 1-1.1 1-1 1-1 1-1 1-1 1-1 1-1.1 1-1 1-1.1 1-1 1-1 1-1.1 1-1 1-1 1-.9 1-.9 1-.9 1-.8 1-.8 1-.8 1-.8 1-.7 1-.8 1-.7 1-.7 1-.7 1-.7 1-.6 1-.6 1-.6 1-.5 1-.5 1-.5 1-.4 1-.5 1-.4 1-.4 1-.4 1-.4 1-.4 1-.4 1-.4 1-.4 1-.4 1-.3 1-.4 1-.3 1-.3 1-.3 1-.3 1-.3 1-.3 1-.3 1-.2 1-.3 1-.2 1-.3 1-.2 1-.2 1-.2 1-.2 1-.2 1-.2 1-.1 1-.2 1-.1 1-.1 1-.1 1-.1 1-.1 1-.1 1-.1 1-.1 1-.1 1-.1 1-.1 1-.2 1-.1 1-.1 1-.1 1-.2 1-.1 1-.2 1-.1 1-.2 1-.1 1-.2 1-.1 1-.2 1-.2 1-.1 1-.2 1-.2 1-.2 1-.1 1-.2 1-.2 1-.1 1-.2 1-.2 1-.2 1-.2 1-.2 1-.3 1-.3 1-.4 1-.4 1-.5 1-.7 1-.7 1-1.2 1-2 1-6.5" stroke="#7a7a7a" stroke-width="1.8"/>
<path d="M60.3,184l1-2.3 1-2.1 1-1.7 1-1.4 1-1.1 1-1.1 1-1 1-.8 1-.7 1-.7 1-.5 1-.6 1-.4 1-.4 1-.4 1-.4 1-.3 1-.3 1-.3 1-.3 1-.3 1-.2 1-.3 1-.2 1-.2 1-.2 1-.2 1-.1 1-.2 1-.2 1-.1 1-.1 1-.2 1-.1 1-.1 1-.1 1-.1 1-.2 1-.1 1-.1 1-.1 1-.1 1-.1 1-.1 1-.1 1 0 1-.1 1-.1 1-.1 1-.1 1-.1 1-.1 1-.1 1 0 1-.1 1-.1 1-.1 1-.1 1 0 1-.1 1-.1 1-.1 1 0 1-.1 1-.1 1 0 1-.1 1-.1 1-.1 1 0 1-.1 1-.1 1 0 1-.1 1 0 1-.1 1-.1 1 0 1-.1 1 0 1-.1 1-.1 1 0 1-.1 1-.1 1 0 1-.1 1-.1 1 0 1-.1 1-.1 1-.1 1-.1 1 0 1-.1 1-.1 1-.1 1-.1 1-.1 1-.1 1-.1 1-.1 1-.1 1-.2 1-.1 1-.1 1-.2 1-.1 1-.2 1-.1 1-.2 1-.2 1-.3 1-.2 1-.3 1-.2 1-.3 1-.3 1-.3 1-.3 1-.4 1-.3 1-.4 1-.4 1-.4 1-.4 1-.5 1-.5 1-.6 1-.7 1-.7 1-.8 1-.9 1-1 1-1.1 1-1.3 1-1.3 1-1.3 1-1.5 1-1.5 1-1.6 1-1.5 1-1.6 1-1.5 1-1.4 1-1.4 1-1.3 1-1.2 1-1.1 1-1 1-1 1-.8 1-.8 1-.6 1-.6 1-.4 1-.4 1-.3 1-.3 1-.2 1-.2 1-.2 1-.1 1 0 1-.1 1 .1 1 .1 1 .1 1 .2 1 .3 1 .2 1 .3 1 .3 1 .3 1 .4 1 .4 1 .4 1 .4 1 .5 1 .5 1 .5 1 .5 1 .6 1 .6 1 .6 1 .6 1 .6 1 .6 1 .6 1 .7 1 .6 1 .7 1 .7 1 .7 1 .6 1 .7 1 .7 1 .6 1 .6 1 .5 1 .6 1 .5 1 .5 1 .5 1 .4 1 .5 1 .4 1 .4 1 .3 1 .4 1 .3 1 .4 1 .3 1 .3 1 .2 1 .3 1 .3 1 .2 1 .3 1 .2 1 .3 1 .2 1 .2 1 .2 1 .3 1 .2 1 .2 1 .2 1 .2 1 .3 1 .2 1 .2 1 .2 1 .1 1 .2 1 .2 1 .1 1 .2 1 .1 1 .1 1 .1 1 .1 1 .1 1 .1 1 .1 1 .1 1 .1 1 .1 1 0 1 .1 1 .1 1 0 1 .1 1 .1 1 0 1 .1 1 0 1 .1 1 .1 1 0 1 .1 1 0 1 .1 1 0 1 .1 1 0 1 .1 1 0 1 .1 1 0 1 .1 1 0 1 .1 1 0 1 .1 1 0 1 .1 1 0 1 .1 1 0 1 .1 1 0 1 .1 1 .1 1 0 1 .1 1 0 1 .1 0 9.2-1 6.6-1 2-1 1.1-1 .8-1 .7-1 .5-1 .4-1 .4-1 .3-1 .3-1 .2-1 .2-1 .2-1 .2-1 .1-1 .2-1 .2-1 .2-1 .1-1 .2-1 .2-1 .1-1 .2-1 .2-1 .1-1 .2-1 .2-1 .1-1 .2-1 .1-1 .1-1 .2-1 .1-1 .2-1 .1-1 .1-1 .1-1 .2-1 .1-1 .1-1 .1-1 .1-1 0-1 .1-1 .1-1 .1-1 .1-1 .2-1 .1-1 .2-1 .1-1 .2-1 .2-1 .2-1 .2-1 .3-1 .2-1 .3-1 .2-1 .3-1 .3-1 .2-1 .3-1 .3-1 .3-1 .3-1 .4-1 .3-1 .4-1 .3-1 .4-1 .4-1 .4-1 .4-1 .3-1 .4-1 .4-1 .4-1 .5-1 .4-1 .5-1 .5-1 .5-1 .5-1 .6-1 .6-1 .6-1 .7-1 .7-1 .7-1 .7-1 .7-1 .7-1 .8-1 .7-1 .8-1 .8-1 .8-1 .9-1 .9-1 .9-1 .9-1 1-1 .9-1 .9-1 1-1 .9-1 .9-1 .9-1 .9-1 .9-1 .9-1 .9-1 1-1 .9-1 1-1 1-1 1-1 .9-1 .8-1 .8-1 .6-1 .5-1 .4-1 .3-1 .3-1 .1-1 .1-1-.1-1-.1-1-.2-1-.2-1-.4-1-.4-1-.4-1-.5-1-.6-1-.6-1-.6-1-.8-1-.7-1-.8-1-.8-1-.9-1-.9-1-.9-1-1-1-.9-1-1-1-1-1-1-1-1-1-.9-1-1-1-1-1-.9-1-1-1-.9-1-.9-1-.9-1-.8-1-.7-1-.7-1-.6-1-.5-1-.5-1-.5-1-.4-1-.4-1-.4-1-.4-1-.3-1-.3-1-.3-1-.3-1-.3-1-.2-1-.2-1-.3-1-.2-1-.2-1-.2-1-.1-1-.2-1-.2-1-.1-1-.1-1-.2-1-.1-1-.1-1-.1-1-.2-1-.1-1-.1-1-.1-1-.1-1-.1-1-.1-1-.1-1-.1-1-.1-1-.1-1-.1-1-.1-1 0-1-.1-1-.1-1 0-1-.1-1-.1-1 0-1-.1-1-.1-1 0-1 0-1-.1-1 0-1 0-1 0-1 0-1 0-1 0-1 0-1 .1-1 0-1 0-1 .1-1 0-1 0-1 .1-1 0-1 .1-1 0-1 .1-1 0-1 .1-1 0-1 .1-1 .1-1 0-1 .1-1 0-1 .1-1 0-1 .1-1 .1-1 0-1 .1-1 0-1 .1-1 .1-1 0-1 .1-1 0-1 .1-1 .1-1 0-1 .1-1 .1-1 .1-1 0-1 .1-1 .1-1 .1-1 .1-1 .1-1 .1-1 .1-1 .1-1 .1-1 .1-1 .2-1 .1-1 .1-1 .2-1 .2-1 .2-1 .1-1 .2-1 .3-1 .2-1 .2-1 .3-1 .2-1 .3-1 .3-1 .3-1 .3" stroke="#dc1e28" stroke-width="2.1"/>
</g>
<path d="M84,73.7l.3 .4 .3 .4 .3 .4 .3 .4 .3 .4 .3 .4 .3 .4 .3 .4 .3 .5 .3 .4 .3 .4 .3 .4 .3 .4 .3 .5 .3 .4 .3 .4 .3 .5 .3 .4 .3 .4 .3 .4 .3 .5 .3 .4 .3 .4 .3 .5 .3 .4 .3 .4 .3 .5 .3 .4 .3 .4 .3 .5 .3 .4 .3 .4 .3 .5 .3 .4 .3 .4 .3 .5 .3 .4 .3 .4 .3 .4 .3 .5 .3 .4 .3 .4 .3 .4 .3 .4 .3 .5 .3 .4 .3 .4 .3 .4 .3 .4 .3 .4 .3 .4 .3 .4 .3 .4 .3 .4 .3 .4 .3 .3 .3 .4 .4 .4 .3 .4 .3 .3 .3 .4 .3 .4 .3 .3 .4 .4 .3 .3 .3 .4 .3 .3 .4 .3 .3 .4 .3 .3 .3 .3 .4 .3 .3 .3 .3 .3 .4 .3 .3 .3 .4 .3 .3 .3 .4 .3 .4 .4 .5 .3 .4 .3 .4 .3 .4 .3 .5 .3 .4 .3 .4 .3 .5 .2 .4 .3 .5 .3 .4 .2 .5 .3 .4 .2 .5 .2 .4 .3 .5 .2 .4 .2 .5 .3 .4 .2 .5 .2 .4 .2 .5 .2 .4 .2 .5 .2 .5 .2 .4 .2 .5 .2 .4 .2 .5 .2 .5 .2 .4 .2 .5 .1 .5 .2 .4 .2 .5 .2 .5 .2 .4 .1 .5 .2 .5 .2 .4 .2 .5 .2 .4 .1 .5 .2 .5 .2 .4 .2 .5 .2 .5 .1 .4 .2 .5 .2 .4 .2 .5 .2 .5 .2 .4 .2 .5 .2 .5 .2 .5 .2 .5 .2 .4 .2 .5 .2 .5 .1 .5 .2 .4 .2 .5 .2 .5 .2 .5 .2 .5 .1 .4 .2 .5 .2 .5 .2 .5 .1 .4 .2 .5 .2 .5 .2 .5 .1 .5 .2 .5 .2 .4 .1 .5 .2 .5 .2 .5 .1 .5 .2 .4 .2 .5 .1 .5 .2 .5 .2 .5 .1 .4 .2 .5 .1 .5 .2 .5 .2 .5 .1 .5 .2 .4 .1 .5 .2 .5 .2 .5 .1 .5 .2 .5 .1 .4 .2 .5 .1 .5 .2 .5 .2 .5 .1 .4 .2 .5 .1 .5 .2 .5 .1 .4 .2 .5 .1 .5 .2 .5 .1 .5 .2 .4 .1 .5 .2 .5 .1 .5 .2 .5 .1 .4 .1 .5 .2 .5 .1 .5 .2 .5 .1 .4 .2 .5 .1 .5 .1 .5 .2 .5 .1 .4 .2 .5 .1 .5 .1 .5 .2 .5 .1 .4 .1 .5 .2 .5 .1 .5 .1 .5 .2 .4 .1 .5 .1 .5 .2 .5 .1 .5 .1 .4 .2 .5 .1 .5 .1 .5 .2 .5 .1 .5 .1 .4 .1 .5 .2 .5 .1 .5 .1 .5 .2 .5 .1 .5 .1 .4 .1 .5 .1 .5 .2 .5 .1 .5 .1 .5 .1 .5 .1 .5 .1 .5 .2 .4 .1 .5 .1 .5 .1 .5 .1 .5 .1 .5 .1 .5 .1 .5 .1 .5 .1 .5 .2 .5 .1 .4 .1 .5 .1 .5 .1 .5 .1 .5 .1 .5 .1 .5 .1 .5 .1 .5 .1 .5 .2 .4 .1 .5 .1 .5 .1 .5 .1 .5 .1 .5 .1 .5 .1 .5 .2 .5 .1 .5 .1 .4 .1 .5 .1 .5 .2 .5 .1 .5 .1 .5 .1 .5 .2 .5 .1 .5 .1 .5 .2 .4 .1 .5 .1 .5 .2 .5 .1 .5 .2 .5 .1 .5 .1 .5 .2 .5 .1 .4 .2 .5 .1 .5 .2 .5 .1 .5 .2 .5 .1 .5 .2 .5 .1 .5 .2 .4 .1 .5 .2 .5 .1 .5 .2 .5 .1 .5 .1 .5 .2 .5 .1 .5 .2 .4 .1 .5 .2 .5 .1 .5 .1 .5 .2 .5 .1 .5 .1 .5 .2 .5 .1 .5 .1 .4 .1 .5 .1 .5 .2 .5 .1 .5 .1 .5 .1 .5 .1 .5 .1 .5 .1 .5 .1 .5 .1 .5 .1 .5 .1 .5 .1 .5 0 .5 .1 .5 .1 .5 .1 .5 .1 .5 0 .5 .1 .5 .1 .5 0 .5 .1 .5 .1 .5 0 .5 .1 .5 .1 .5 0 .5 .1 .5 0 .5 .1 .5 .1 .5 0 .5 .1 .5 0 .5 .1 .5 .1 .5 0 .5 .1 .5 0 .5 .1 .5 .1 .5 0 .5 .1 .5 .1 .5 0 .5 .1 .5 .1 .5 0 .5 .1 .5 .1 .5 0 .5 .1 .5 .1 .5 .1 .5 .1 .5 0 .5 .1 .5 .1 .5 .1 .5 .1 .5 .1 .5 .1 .5 0 .5 .1 .5 .1 .5 .1 .5 .1 .5 .1 .5 .1 .5 .1 .5 .1 .5 0 .5 .1 .5 .1 .5 .1 .5 .1 .5 .1 .5 .1 .5 .1 .5 .1 .5 .1 .5 .1 .5 .1 .5 0 .5 .1 .5 .1 .5 .1 .5 .1 .5 .1 .5 .1 .5 .1 .5 .1 .5 .1 .5 .1 .5 .1 .5 .1 .5 0 .5 .1 .5 .1 .5 .1 .5 .1 .5 .1 .5 .1 .5 .1 .5 .1 .5 0 .5 .1 .5 .1 .5 .1 .5 .1 .5 .1 .5 .1 .5 .1 .5 0 .5 .1 .5 .1 .5 .1 .5 .1 .5 .1 .5 .1 .5 .1 .5 .1 .5 0 .5 .1 .5 .1 .5 .1 .5 .1 .5 .1 .5 .1 .5 .1 .5 0 .5 .1 .5 .1 .5 .1 .5 .1 .5 .1 .5 .1 .5 .1 .5 0 .5 .1 .5 .1 .5 .1 .5 .1 .5 .1 .5 .1 .5 0 .5 .1 .5 .1 .5 .1 .5 .1 .5 .1 .5 .1 .5 0 .5 .1 .5 .1 .5 .1 .5 .1 .5 .1 .5 0 .5 .1 .5 .1 .5 .1 .5 .1 .5 .1 .5 0 .5 .1 .5 .1 .5 .1 .5 .1 .5 .1 .5 0 .5 .1 .5 .1 .5 .1 .5 .1 .5 .1 .5 0 .5 .1 .5 .1 .5 .1 .5 .1 .5 .1 .5 0 .5 .1 .5 .1 .5 .1 .5 .1 .5 .1 .5 0 .5 .1 .5 .1 .5 .1 .5 .1 .5 .1 .5 0 .5 .1 .5 .1" fill="none" stroke="#1a1a1a" stroke-width="1.5"/>
<circle cx="84" cy="73.7" r="6.3" fill="#fc0606"/>
<circle cx="108" cy="104.5" r="6.3" fill="#fc0606"/>
<circle cx="132" cy="116.2" r="6.3" fill="#fc0606"/>
<circle cx="156" cy="124.8" r="6.3" fill="#fc0606"/>
<circle cx="180" cy="131.8" r="6.3" fill="#fc0606"/>
<circle cx="204" cy="137.4" r="6.3" fill="#fc0606"/>
<circle cx="228" cy="144.1" r="6.3" fill="#fc0606"/>
<circle cx="252" cy="147.5" r="6.3" fill="#fc0606"/>
<circle cx="276" cy="151.8" r="6.3" fill="#fc0606"/>
<circle cx="300" cy="156" r="6.3" fill="#fc0606"/>
<circle cx="324" cy="160" r="6.3" fill="#fc0606"/>
<rect x="60.3" y="65.0" width="288.0" height="211.60000000000002" fill="none" stroke="#1a1a1a" stroke-width="1.7"/>
<line x1="60.3" y1="276.6" x2="60.3" y2="272.1" stroke="#1a1a1a" stroke-width="1.5"/>
<line x1="98.8" y1="276.6" x2="98.8" y2="274.1" stroke="#1a1a1a" stroke-width="1.5"/>
<line x1="137.3" y1="276.6" x2="137.3" y2="272.1" stroke="#1a1a1a" stroke-width="1.5"/>
<line x1="175.8" y1="276.6" x2="175.8" y2="274.1" stroke="#1a1a1a" stroke-width="1.5"/>
<line x1="214.3" y1="276.6" x2="214.3" y2="272.1" stroke="#1a1a1a" stroke-width="1.5"/>
<line x1="252.8" y1="276.6" x2="252.8" y2="274.1" stroke="#1a1a1a" stroke-width="1.5"/>
<line x1="291.3" y1="276.6" x2="291.3" y2="272.1" stroke="#1a1a1a" stroke-width="1.5"/>
<line x1="329.8" y1="276.6" x2="329.8" y2="274.1" stroke="#1a1a1a" stroke-width="1.5"/>
<line x1="84" y1="65" x2="84" y2="69.5" stroke="#1a1a1a" stroke-width="1.5"/>
<line x1="108" y1="65" x2="108" y2="67.5" stroke="#1a1a1a" stroke-width="1.5"/>
<line x1="132" y1="65" x2="132" y2="69.5" stroke="#1a1a1a" stroke-width="1.5"/>
<line x1="156.1" y1="65" x2="156.1" y2="67.5" stroke="#1a1a1a" stroke-width="1.5"/>
<line x1="180.1" y1="65" x2="180.1" y2="69.5" stroke="#1a1a1a" stroke-width="1.5"/>
<line x1="204.1" y1="65" x2="204.1" y2="67.5" stroke="#1a1a1a" stroke-width="1.5"/>
<line x1="228.1" y1="65" x2="228.1" y2="69.5" stroke="#1a1a1a" stroke-width="1.5"/>
<line x1="252.1" y1="65" x2="252.1" y2="67.5" stroke="#1a1a1a" stroke-width="1.5"/>
<line x1="276.2" y1="65" x2="276.2" y2="69.5" stroke="#1a1a1a" stroke-width="1.5"/>
<line x1="300.2" y1="65" x2="300.2" y2="67.5" stroke="#1a1a1a" stroke-width="1.5"/>
<line x1="324.2" y1="65" x2="324.2" y2="69.5" stroke="#1a1a1a" stroke-width="1.5"/>
<line x1="60.3" y1="270.4" x2="62.8" y2="270.4" stroke="#1a1a1a" stroke-width="1.5"/>
<line x1="60.3" y1="237.3" x2="64.8" y2="237.3" stroke="#1a1a1a" stroke-width="1.5"/>
<line x1="60.3" y1="204.2" x2="62.8" y2="204.2" stroke="#1a1a1a" stroke-width="1.5"/>
<line x1="60.3" y1="171" x2="64.8" y2="171" stroke="#1a1a1a" stroke-width="1.5"/>
<line x1="60.3" y1="137.8" x2="62.8" y2="137.8" stroke="#1a1a1a" stroke-width="1.5"/>
<line x1="60.3" y1="104.7" x2="64.8" y2="104.7" stroke="#1a1a1a" stroke-width="1.5"/>
<line x1="60.3" y1="71.5" x2="62.8" y2="71.5" stroke="#1a1a1a" stroke-width="1.5"/>
<line x1="348.3" y1="267" x2="343.8" y2="267" stroke="#1a1a1a" stroke-width="1.5"/>
<line x1="348.3" y1="242.9" x2="345.8" y2="242.9" stroke="#1a1a1a" stroke-width="1.5"/>
<line x1="348.3" y1="218.8" x2="343.8" y2="218.8" stroke="#1a1a1a" stroke-width="1.5"/>
<line x1="348.3" y1="194.7" x2="345.8" y2="194.7" stroke="#1a1a1a" stroke-width="1.5"/>
<line x1="348.3" y1="170.7" x2="343.8" y2="170.7" stroke="#1a1a1a" stroke-width="1.5"/>
<line x1="348.3" y1="146.6" x2="345.8" y2="146.6" stroke="#1a1a1a" stroke-width="1.5"/>
<line x1="348.3" y1="122.5" x2="343.8" y2="122.5" stroke="#1a1a1a" stroke-width="1.5"/>
<line x1="348.3" y1="98.4" x2="345.8" y2="98.4" stroke="#1a1a1a" stroke-width="1.5"/>
<line x1="348.3" y1="74.3" x2="343.8" y2="74.3" stroke="#1a1a1a" stroke-width="1.5"/>
<g font-family='"Liberation Sans", sans-serif' stroke-width="0.25">
<text x="3.6" y="14.2" textLength="13.5" lengthAdjust="spacingAndGlyphs" fill="#000" stroke="#000"><tspan font-size="26" font-weight="bold">a</tspan></text>
<text x="123" y="28.5" textLength="162.3" lengthAdjust="spacingAndGlyphs" fill="#1a1a1a" stroke="#1a1a1a"><tspan font-size="15.5">Number of 1,000 cycles</tspan></text>
<text x="79.1" y="56.6" textLength="9.8" lengthAdjust="spacingAndGlyphs" fill="#1a1a1a" stroke="#1a1a1a"><tspan font-size="15.5">0</tspan></text>
<text x="126.9" y="56.6" textLength="10.3" lengthAdjust="spacingAndGlyphs" fill="#1a1a1a" stroke="#1a1a1a"><tspan font-size="15.5">2</tspan></text>
<text x="175.5" y="56.6" textLength="9.3" lengthAdjust="spacingAndGlyphs" fill="#1a1a1a" stroke="#1a1a1a"><tspan font-size="15.5">4</tspan></text>
<text x="223" y="56.6" textLength="10.1" lengthAdjust="spacingAndGlyphs" fill="#1a1a1a" stroke="#1a1a1a"><tspan font-size="15.5">6</tspan></text>
<text x="271.2" y="56.6" textLength="10" lengthAdjust="spacingAndGlyphs" fill="#1a1a1a" stroke="#1a1a1a"><tspan font-size="15.5">8</tspan></text>
<text x="315.5" y="56.6" textLength="16.4" lengthAdjust="spacingAndGlyphs" fill="#1a1a1a" stroke="#1a1a1a"><tspan font-size="15.5">10</tspan></text>
<text x="34.2" y="109.2" textLength="21.2" lengthAdjust="spacingAndGlyphs" fill="#1a1a1a" stroke="#1a1a1a"><tspan font-size="15.5">5.0</tspan></text>
<text x="34.2" y="175.2" textLength="20.8" lengthAdjust="spacingAndGlyphs" fill="#1a1a1a" stroke="#1a1a1a"><tspan font-size="15.5">0.0</tspan></text>
<text x="25.2" y="241.6" textLength="30.1" lengthAdjust="spacingAndGlyphs" fill="#1a1a1a" stroke="#1a1a1a"><tspan font-size="15.5">−5.0</tspan></text>
<text x="353.8" y="78.6" textLength="24.2" lengthAdjust="spacingAndGlyphs" fill="#1a1a1a" stroke="#1a1a1a"><tspan font-size="15.5">100</tspan></text>
<text x="353.2" y="126.8" textLength="16.6" lengthAdjust="spacingAndGlyphs" fill="#1a1a1a" stroke="#1a1a1a"><tspan font-size="15.5">75</tspan></text>
<text x="353" y="175.1" textLength="16.3" lengthAdjust="spacingAndGlyphs" fill="#1a1a1a" stroke="#1a1a1a"><tspan font-size="15.5">50</tspan></text>
<text x="352.9" y="222.9" textLength="16.5" lengthAdjust="spacingAndGlyphs" fill="#1a1a1a" stroke="#1a1a1a"><tspan font-size="15.5">25</tspan></text>
<text x="353.2" y="271.2" textLength="8.1" lengthAdjust="spacingAndGlyphs" fill="#1a1a1a" stroke="#1a1a1a"><tspan font-size="15.5">0</tspan></text>
<text x="41.4" y="296.7" textLength="39.4" lengthAdjust="spacingAndGlyphs" fill="#1a1a1a" stroke="#1a1a1a"><tspan font-size="15.5">−0.20</tspan></text>
<text x="122.4" y="296.7" textLength="30.2" lengthAdjust="spacingAndGlyphs" fill="#1a1a1a" stroke="#1a1a1a"><tspan font-size="15.5">0.00</tspan></text>
<text x="198.4" y="296.7" textLength="30.3" lengthAdjust="spacingAndGlyphs" fill="#1a1a1a" stroke="#1a1a1a"><tspan font-size="15.5">0.20</tspan></text>
<text x="274.7" y="296.7" textLength="30.1" lengthAdjust="spacingAndGlyphs" fill="#1a1a1a" stroke="#1a1a1a"><tspan font-size="15.5">0.40</tspan></text>
<text x="175" y="324" textLength="93.3" lengthAdjust="spacingAndGlyphs" fill="#1a1a1a" stroke="#1a1a1a"><tspan font-size="15.5" font-style="italic">E</tspan><tspan font-size="15.5"> / </tspan><tspan font-size="15.5" font-style="italic">V</tspan><tspan font-size="15.5"> versus Pt</tspan></text>
<text transform="translate(21,206) rotate(-90)" x="1.7" y="0" textLength="71.7" lengthAdjust="spacingAndGlyphs" fill="#1a1a1a" stroke="#1a1a1a"><tspan font-size="15.5" font-style="italic">j</tspan><tspan font-size="15.5"> (µA cm</tspan><tspan font-size="10.5" dy="-5.5">−2</tspan><tspan font-size="15.5" dy="5.5">)</tspan></text>
<text transform="translate(398.2,283) rotate(-90)" x="-1.3" y="0" textLength="230.6" lengthAdjust="spacingAndGlyphs" fill="#1a1a1a" stroke="#1a1a1a"><tspan font-size="15.5">Normalized surface coverage (%)</tspan></text>
<text x="72.1" y="261.2" textLength="67.6" lengthAdjust="spacingAndGlyphs" fill="#1a1a1a" stroke="#1a1a1a"><tspan font-size="15.5">HMImPF</tspan><tspan font-size="11" dy="4.5">6</tspan></text>
<text x="264.5" y="93" textLength="68.3" lengthAdjust="spacingAndGlyphs" fill="#2a2ad2" stroke="#2a2ad2"><tspan font-size="12.5">00001 cycle</tspan></text>
<text x="264.7" y="115.3" textLength="78.4" lengthAdjust="spacingAndGlyphs" fill="#e0262e" stroke="#e0262e"><tspan font-size="12.5">10,000 cycles</tspan></text>
</g>
<path d="M134.1,104 L134.1,77.5 M129.2,85.4 L134.1,77.2 L139,85.4 M134.1,104 L161.5,104 M153,99 L161.8,104 L153,109" fill="none" stroke="#111" stroke-width="1.45"/>
<line x1="257.7" y1="87" x2="257.7" y2="107" stroke="#7a7a7a" stroke-width="1.9"/><path d="M254.6,105.5 L260.8,105.5 L257.7,115 Z" fill="#7a7a7a"/>
<g fill="none" stroke-linejoin="round" stroke-linecap="round">
<path d="M513.5,175l.1-1 .1-1 0-1 .1-1.1 .1-1 .1-1.1 0-1 .1-1.1 .1-1 0-1.1 .1-1.1 .1-1 0-1.1 .1-1.1 .1-1 0-1.1 .1-1 .1-1.1 0-1 .1-1.1 .1-1 .1-1 .1-1 0-1 .1-1 .1-1 .1-.9 .1-1 .1-.9 .2-.9 .1-.9 .1-.9 .1-.9 .2-.8 .1-.8 .2-1.2 .2-1.1 .3-1.2 .2-1.1 .2-1 .3-1 .2-1.1 .3-.9 .3-1 .3-1 .3-.9 .3-.9 .3-.9 .4-.9 .3-.9 .4-.9 .4-1 .5-.9 .5-1 .5-.9 .6-.9 .5-.9 .6-.9 .6-.8 .6-.8 .5-.8 .6-.7 .6-.7 .5-.7 .8-.9 .9-.9 .8-.7 .9-.4 .8-.8 .8-1.1 1.2-.7 1.2 0 1.2-1 .9 1.2 .9 .7 .8 .6 .8 .8 .7 .9 .6 1.1 .6 1.2 .7 .9 .7 .5 .9 .3 .9-.8 1-1 1-.6 .9-1.6 .7-.7 .6-.3 .7-1.4 .6-.8 .7-.2 .7-.8 .8-.3 .8-1.1 .8-1 .9-.8 .9-.9 .9-.7 .9 0 1 .7 1 0 1.1 .9 1 .4 1 1.4 .9-.4 1-.2 .9 0 1-1 .9 .1 1 .2 1.1 .8 1 .2 1.1 1.2 .9 .5 .9 .9 1 0 .9 .8 1 .1 .9 1 .7 .6 .7 .6 .7 1.5 .7 .5 .7 1.5 .7 .5 .7 .8 .7 .8 .8 .6 .9 0 .9 .7 .9 .1 1 .5 1.1-.1 1.2 1.1 .7-.7 .8 .5 .8-.3 .9 .6 .9-.1 1-.6 1 .7 1 .1 1-.1 1.1-.3 1.1-.5 1.1 0 1.1 .7 1.1-.4 1.1-.5 1 .7 1.1-.3 1.1-.1 1.1-.2 1 0 1-.2 1-.2 .9 .8 1-.4 1 .1 1-.3 1 .5 1-.8 1 .4 1-.4 1 .1 1 .8 1-.3 1.1-.3 1 .1 1 .4 1-.6 1 .2 1 .1 1-.3 1 .1 1 .3" stroke="#808080" stroke-width="1.6"/>
<path d="M632,121.8l-1-.6-1 .7-1-.7-1.1 .6-1 0-1-.5-1 .2-1.1 .4-1-.7-1.1 .5-1 .2-1-.3-1.1 .2-1-.4-1 0-1.1 .1-1-.1-1 .2-1 .4-1.1-.2-1-.2-1 0-1 .5-.9-.3-1 .4-1-.3-.9 0-1 .4-.9-.1-.9-.1-.9 0-.9 .4-1.1-.3-1.1 .5-1.1-.5-1.1 .4-1.1 .2-1.1 .5-1-.5-1.1 .6-1 .1-1 .2-1 .1-1 .4-1-.4-1 .2-.9 0-.9 .1-.9 .2-.9 .8-.9 0-.8-.4-1.1 .6-1.1 0-1.1 .3-1 .2-.9-.1-1 .7-.9-.3-1 .4-.9 .2-1-.2-1 .2-1.1 .5-1.1 .6-1 .3-1.1 .2-1-.2-1.1 1-.9 .3-.9 .5-.8 .1-.9 1-.9-.1-.7 .7-.7 .8-.7 1-.6 .9-.5 .8-.4 1.2-.4 .5-.4 1.4-.3 .7-.3 1.4-.4 .4-.3 1.1-.4 1.9-.5 1.1-.4 1.5-.4 .9-.6 .4-.6-.5-.8-.3-.8-1.3-.7-.3-.8-.8-.6-.9-.7-1.6-.6-.8-.6-1-.7-1.2-.6-.5-.7-.7-.8-1.1-.7-.3-.8-.7-.8-1.1-.9 .2-.9 0-1.1-.4-1 .5-1 .3-1 .3-1.1-.1-1 .7-1.1 .4-1 .7-.8 .5-.9 .2-.8 .9-.8 .9-.8 .5-.7 .9-.5 .8-.6 .9-.4 .9-.5 1-.4 1.1-.4 1-.4 1.1-.4 1.1-.4 1.1-.3 .9-.3 .9-.3 1-.2 .9-.3 1-.2 .9-.3 1-.2 1-.2 1.1-.2 1-.3 1.2-.2 1.1-.2 .8-.1 .9-.2 .9-.2 1-.1 .9-.2 1-.1 .9-.2 1-.1 1.1-.2 1-.1 1-.2 1-.1 1.1-.2 1-.1 1.1-.2 1.1-.1 1-.2 1.1-.1 1-.1 1-.2 1.1-.1 1-.2 1" stroke="#808080" stroke-width="1.6"/>
<path d="M509.8,260l0-1 .1-1 0-1 .1-1 0-1.1 .1-1 0-1 .1-1.1 0-1 .1-1 0-1.1 .1-1 0-1 .1-1.1 0-1 .1-1 0-1 .1-1 0-1 .1-1 0-1 .1-1 0-1 0-1 .1-1 0-.9 .1-.9 0-1 .1-.9 0-.9 0-1.1 .1-1 0-1.1 .1-1 0-1 .1-1 0-.9 0-1 .1-.9 0-1 .1-.9 0-1 0-1 .1-.9 0-1 0-1 .1-1 0-1.1 .1-1 0-1.1 0-.9 .1-.9 0-1 0-.9 .1-1 0-1 0-1 .1-1 0-1 0-1.1 .1-1 0-1.1 0-1 .1-1.1 0-1 0-1.1 0-1 .1-1 0-1.1 0-1 .1-1.1 0-1 0-1 .1-1 0-1 .1-1 0-.9 0-1 .1-.9 0-.9 0-1.1 .1-1.1 0-1 .1-1 0-1.1 0-1 .1-.9 0-1 .1-1 0-1 0-.9 .1-1 0-1 .1-.9 .1-1 0-1 .1-1 0-1 .1-1 .1-1 .1-1 .1-1 0-1 .1-1 .1-1 .1-1 .1-1 .1-1.1 0-1 .1-1 .1-1.1 .1-1 .1-1.1 .2-1 .1-1 .1-1 .1-1 .2-1 .1-1 .2-.9 .1-1 .2-.9 .2-.9 .2-1.1 .3-1 .2-1.1 .3-1 .2-1 .3-1 .3-1 .2-1 .3-.9 .3-1 .4-.9 .3-1 .4-.9 .3-.9 .4-.9 .4-.9 .5-1 .4-.9 .5-1 .6-.9 .5-1 .6-.9 .6-.9 .5-.9 .6-.9 .6-.8 .6-.8 .5-.8 .6-.7 .5-.7 .7-.9 .8-.4 .7-1.7 .7-.9 .7 .1 .7-1.2 .7-.1 1.2-.5 1.1-1.5 1.1-.4 .8 .6 .8 1 .7 .3 .8 1.3 .6 .5 .7 1.7 .6 1.3 .7 .5 .6 1 .7 .8 .6 0 1-.4 1-.9 1-1 .6-1.1 .7 .2 .6-1 .6-1.1 .7-1.1 .8 0 .6-1.4 .7-.8 .8-.9 .7-.9 .8 .2 .8-1.6 .8-.8 .8 0 .7-.9 .8-1 1.1-.1 1.2 .3 1.1-.7 1.1 .3 1-1 1.3 .2 1.1-.7 1.1 0 .6 .2 .5 .3 .4 .6 .5 1.6 .4 1.3 .5 .4 .6 1 .6 1.1 .7 1 .7 .9 .7-.2 .7 .8 .8 1.5 .7 .6 .7 1 .6 1.1 .5 .8 .5 .9 .6 .9 .5 .6 .5 1.2 .5 .5 .6 1.6 .6 .8 .6 .7 .6 .2 .9 .6 .9 .5 1-.2 1 1.2 1.1-.1 1.3 0 .7 .2 .8 .3 .9-.3 .9 .5 .9 .1 .9-.6 1-.3 1 .7 1.1 .2 1.1-1.1 1 .7 1.1 0 1.1 .1 1.1-1.1 1.1-.1 1.1 1.1 1.1-1.1 1.1 0 1.1 .4 1-.2 1 .4 1-.7 1 .8 1-.8 1 .6 1-.8 1 .5 1-.6 1 .3 1 0 1 .5 1-.3 1-.5 1 1.1 1-.1 1 0 1.1-.8 1 .1 1-.2 1-.1 1-.1 1 .5" stroke="#2222bc" stroke-width="2.1"/>
<path d="M632.1,121.3l-1 0-1-.2-1 0-1 .5-1-.3-1.1-.1-1 .3-1-.3-1 .2-1-.1-1.1 .1-1 .1-1-.1-1-.1-1 .3-1 0-1.1-.4-1 0-1 0-1 .6-1-.1-1-.4-1 .5-1-.4-1 .2-1 0-1 .3-.9-.5-1 .2-1 .2-.9-.3-1 .1-1.1 .2-1.1 .3-1 0-1.1 .1-1.1 0-1.1 0-1.1 .1-1.1 0-1.1 .1-1.1-.3-1.1 0-1 .4-1.1-.3-1.1 .5-1-.1-1-.1-1.1 .5-1-.4-.9 .4-1-.2-1 .7-.9-.1-.9 .3-.9-.2-.9 .5-.8 .1-1.2 .3-1.1 .4-1.2 0-1.1 .3-1 .5-1.1 .4-1 .1-.9 .6-1 .1-.8 .7-.9 .7-.8 .1-.7 1-.7 .6-.6 .8-.6 .8-.5 .8-.5 1-.5 .9-.4 1-.4 .9-.4 1.1-.3 1-.4 1-.3 1-.3 1-.2 1-.2 1.1-.2 1.1-.2 1.1-.1 1.2-.1 1.1-.2 1.1-.1 1.1-.2 1.1-.1 1-.2 1-.3 1-.3 .8-.5 1.2-.5 1.2-.6 1.1-.6 1.1-.7 .8-.7 .7-.7 .3-.9 0-1-.4-1-.7-1-.8-1-.9-.6-.6-.6-.7-.6-.8-.5-.8-.6-.9-.5-.9-.6-1-.6-.9-.6-.9-.6-.8-.6-.8-.7-.8-.7-.9-.7-.9-.8-.9-.7-.9-.8-.8-.7-.7-.7-.5-.8-.4-.7-.2-1 .1-.9 .3-1 .6-.9 .7-.9 .8-.8 .8-.7 .7-.6 .9-.6 .9-.6 .9-.5 1-.5 1-.5 .9-.4 1-.4 1-.3 .9-.3 .9-.3 .9-.2 1-.3 1.1-.2 1.2-.1 .8-.2 .8-.1 .8-.2 .9-.1 .9-.2 .9-.1 1-.1 1-.2 1-.1 1-.1 1-.1 1.1-.2 1.1-.1 1.1-.1 1.1-.1 1.1-.1 1.1-.1 1.1-.1 1.1-.1 1.1-.1 .9 0 .9-.1 1-.1 .9 0 1-.1 1-.1 1 0 1-.1 1 0 1.1-.1 1 0 1-.1 1.1 0 1-.1 1.1 0 1 0 1.1-.1 1 0 1.1-.1 1 0 1.1 0 1-.1 1 0 1-.1 1 0 1-.1 .9 0 1 0 .9-.1 .9-.1 1.1 0 1-.1 1.1-.1 1 0 1-.1 1 0 .9-.1 1-.1 1 0 .9-.1 1-.1 .9 0 1-.1 .9-.1 1 0 1-.1 1-.1 1.1 0 1-.1 1.1-.1 .9 0 1-.1 .9 0 1-.1 .9-.1 1 0 1-.1 1-.1 1 0 1-.1 1.1-.1 1 0 1-.1 1.1-.1 1 0 1.1-.1 1-.1 1.1 0 1-.1 1.1-.1 1 0 1.1-.1 1-.1 1 0 1.1-.1 1-.1 1.1 0 1-.1 1" stroke="#2222bc" stroke-width="2.1"/>
<path d="M632.1,117.2 L632.1,121.3" stroke="#2222bc" stroke-width="2"/>
<path d="M722,116.3l.9-.5 .8-.6 .9-.5 .9-.5 .9-.6 .9-.5 .8-.5 .9-.5 .8-.5 .9-.5 1-.6 .9-.5 .9-.6 1-.6 .9-.5 .9-.5 1-.3 .9-.1 1.1 0 1 .3 1.1 .4 1 .4 1.1 .6 1.1 .5 1.1 .4 .9 .4 1 .4 .9 .4 1 .5 .9 .4 1 .4 1 .3 .9 .3 1 .1 1.1 .1 1.1 0 1.2-.1 1.2-.1 1.1-.2 1.1-.3 .9-.4 .9-.5 .7-.6 .6-.8 .6-.9 .5-.9 .4-1 .4-1 .5-1 .5-.9" stroke="#808080" stroke-width="1.6"/>
<path d="M632,121.8l1 0 1-.5 .9 1 1-.5 1-.1 .9 .3 1-.2 .9 .2 1-.6 .9 .5 1 0 1 .3 1-.8 1 .4 1 .1 1 0 1-.5 1.1 .5 1.1-.4 1.1 0 1.1 .7 .9-.7 .9 .2 .9 .3 .9 0 1-.2 1 .3 1-.4 1 .2 1 .2 1.1-.2 1 0 1.1-.2 1.1 .1 1.1-.2 1.1 .4 1-.4 1.1 .1 1.1 .3 1.1-.3 1.1-.2 1.1 .5 1.1-.4 1 .4 1.1-.1 1-.3 1.1 .3 1-.7 1 .3 1 .5 1-.3 .9-.1 .9 .1 1 0 .8-.1 .9-.1 .8-.3 .8 .1 1.2 0 1.2 .1 1.1 .5 1.1-.6 1 0 1-.1 1 .2 1 .4 .9-.1 1-.4 .9-.1 .9 0 .9-.1 .9 0 .9-.1 1.1-.1 1.1 0 1-.1 1-.1 1.1-.1 .9-.1 1-.1 1-.2 .9-.2 .9-.2 1.1-.3 1.1-.4 1-.5 1-.4 1-.6 .9-.5 1-.7 .8-.6 .8-.6 .8-.7 .8-.7 .8-.7 .8-.8 .7-.8 .7-.8 .7-.9 .6-.9 .5-.8 .5-.9 .4-1 .4-.9 .3-1 .4-1 .3-1 .3-1.1 .3-1 .3-1.1 .3-1 .3-1 .3-1 .2-1 .3-1.1 .2-1 .3-1.1 .2-1.1 .2-1.1 .2-1 .2-1 .3-1 .2-.9 .3-.8 .3-.7 .6-1.4 .7-1.2 .6-1 .7-.3 .6 .3 .5 .9 .6 1.2 .6 1.3 .5 1.3 .3 .8 .3 .9 .2 .9 .2 1 .2 1.1 .3 1 .2 1.1 .2 1.1 .3 1 .3 1 .3 .9 .4 .9 .5 1 .5 .9 .5 1 .6 .9 .6 .9 .6 .8 .7 .7 .7 .7 .7 .6 1 .7 1 .5 1.1 .5 1.1 .3 1.1 .2 1.1 0 .9-.1 1-.3 1-.5 .9-.5 .9-.6 .9-.6 .8-.6 .8-.8 .8-.8 .7-1 .6-.9 .7-1 .7-.9" stroke="#dc1e28" stroke-width="1.9"/>
<path d="M768.2,98.2l-.1 1-.2 1.1-.1 1.1-.1 1.1-.1 1-.1 1.1-.2 1-.2 1-.3 .9-.4 1.1-.4 1.1-.5 1.1-.6 .9-.6 1-.8 .8-.7 .7-.9 .6-.9 .5-1 .5-1 .5-1 .5-1 .3-1 .4-1 .3-.9 .2-1 .2-.9 .1-1 .1-1 .1-1.1 .2-1.1 .1-.9 .1-.9 .1-1 .2-1 .1-1 .1-1 .1-1 .1-1.1 .2-1 .1-1 .1-1.1 .1-1 .1-1 .1-1.1 .1-1.1 .1-1.2 .1-1.1 .1-1.2 .1-1.1 .1-1.1 .1-1.1 0-1.1 .1-1 .2-.9 .1-.9 .1-1.3 .2-1.2 .1-1.1 .2-1.1 .3-.9 .5-.8 .6-.8 .7-.6 .9-.6 .9-.5 1.1-.3 .7-.2 .8-.2 .8-.1 .9-.2 .9-.1 1-.1 1-.1 1.1 0 1.1-.1 1.1-.1 1.2-.1 1.2-.1 1.2-.1 .8 0 .8-.1 .8-.1 .9 0 .8-.1 .9-.1 1 0 .9-.1 1 0 1-.1 1-.1 1 0 1-.1 1 0 1.1-.1 1 0 1.1-.1 1.1 0 1.1-.1 1 0 1.1-.1 1.1 0 1.1-.1 1.1 0 1-.1 1.1 0 1.1-.1 1 0 1.1-.1 1 0 1-.1 1.1 0 1-.1 .9 0 1 0 1-.1 1.1 0 1-.1 1 0 1.1-.1 1 0 1 0 1-.1 1 0 1-.1 1 0 1 0 1-.1 1 0 1 0 1-.1 .9 0 1 0 1-.1 1 0 1 0 1-.1 .9 0 1-.1 1 0 1 0 1-.1 1 0 1" stroke="#dc1e28" stroke-width="1.9"/>
<path d="M708,204l0-1-.1-1 0-1-.1-1 0-1-.1-1 0-.9-.1-1 0-1-.1-1 0-1-.1-1 0-.9 0-1-.1-1 0-1-.1-1 0-1-.1-1 0-1-.1-1 0-1-.1-1 0-1-.1-1.1 0-1-.1-1 0-1.1-.1-1-.1-1 0-.9-.1-1 0-1.1-.1-1 0-1-.1-1.1 0-1-.1-1.1 0-1.1-.1-1.1 0-1.1-.1-1.1 0-1-.1-1.1-.1-1.1 0-1.1-.1-1.1 0-1.1-.1-1-.1-1.1 0-1-.1-1 0-1-.1-1-.1-1 0-1-.1-.9-.1-.9 0-.9-.1-.9-.1-.8-.1-.9 0-.7-.1-.8-.1-1.2-.1-1.2-.1-1.2-.1-1.1-.1-1-.1-1.1-.1-.9-.2-1-.1-.9-.2-.8-.2-.8-.3-.8-.5-1.2-.5-1.2-.6-1-.8-.9-.9-.7-.7-.4-.9-.3-.8-.2-1 .4-1-.3-1.1 .2-1.2-.3-1.4 .4-1.4-.3-.6 .1-.6-.2-.7 .1-.6 .2-.7 0-.8-.2-.7 .1-.8-.2-.8 0-.8 .1-.8-.2-.9 0-.9 .3-.9 0-.9-.4-.9 .4-1 0-1-.2-1-.2-1 .3-1-.2-1 .2-1-.2-1.1 .2-1.1-.2-1 .1-1.1 .1-1.1 0-1.1-.2-1.1 .4-1.2-.4-1.1 0-1.1 0-1.1-.1-1.2 .2-1.1 .3-1.1-.1-1.2-.3-1.1 0-1.2 .1-1.1 .3-1.1-.2-1.2 .3-1.1-.2-1.1 0-1.2 .1-1.1 0-1.1-.2-1.1-.1-1.1 .1-1.1 .1-1.1-.2-1 .2-1.1 .1-1-.3-1.1 0-1 0-1 .2" stroke="#dc1e28" stroke-width="1.9"/>
<path d="M653.2,121.8l1 0 .9-1.2 1-.4 1-.6 .9-.3 1-.8 1-.3 .9-.8 .9-.5 .8-.2 .9-1 .8-.4 .8-.8 .8-.6 .8-.4 .8-1 .8-.1 .8-.5 .9-.7 .9-1 1 0 .9-.6 1-.3 .9-.7 .9 .2 .9-.2 1.3-.7 1.2 .1 1.2 0 1.2 .8 .9 .4 1 .5 1 .3 .9 .6 .9 .6 .8 .4 .8 1.1 .7 .5 .7 .6 .8 .6 1-.1 1 .5 1.1 0 L693,122" stroke="#dc1e28" stroke-width="1.9"/>
<path d="M654.5,122l.8 .8 .8 .5 .8 .4 .8 .4 .8 .6 .8 .6 .8 .7 .9 .8 .8 1 .7 .2 .8 1.1 .7 .7 .8 1 .7 .6 .8 .7 .8 1.3 .8 .5 .7 .7 .8 1 .7 .4 .8 .1 .7 .2 .9 .3 1-.8 .9-.4 .9-1.1 .8-.4 .9-1.3 1-.6 .9-1.1 .8-.3 .9-.4 .9-1.1 .9-.5 .9-.3 .9-.8 .9-.8 .8-.4 .8-.7 .8-.3 .9-1 .8-.3 .8-.7 .8-.6 .8-.8 .8-.4" stroke="#dc1e28" stroke-width="1.9"/>
<path d="M708.2,197.5 L708.2,204.5" stroke="#808080" stroke-width="1.8"/>
</g>
<line x1="632" y1="91" x2="632" y2="205.5" stroke="#6a6a6a" stroke-width="1.8"/>
<line x1="632" y1="91" x2="632" y2="205.5" stroke="#1a1a1a" stroke-width="1.8" stroke-dasharray="2,1.2"/>
<rect x="499.5" y="65.3" width="287.4" height="211.5" fill="none" stroke="#1a1a1a" stroke-width="1.7"/>
<line x1="499.4" y1="276.8" x2="499.4" y2="272.3" stroke="#1a1a1a" stroke-width="1.5"/>
<line x1="521.5" y1="276.8" x2="521.5" y2="274.3" stroke="#1a1a1a" stroke-width="1.5"/>
<line x1="543.7" y1="276.8" x2="543.7" y2="272.3" stroke="#1a1a1a" stroke-width="1.5"/>
<line x1="565.8" y1="276.8" x2="565.8" y2="274.3" stroke="#1a1a1a" stroke-width="1.5"/>
<line x1="587.9" y1="276.8" x2="587.9" y2="272.3" stroke="#1a1a1a" stroke-width="1.5"/>
<line x1="610.1" y1="276.8" x2="610.1" y2="274.3" stroke="#1a1a1a" stroke-width="1.5"/>
<line x1="632.2" y1="276.8" x2="632.2" y2="272.3" stroke="#1a1a1a" stroke-width="1.5"/>
<line x1="654.3" y1="276.8" x2="654.3" y2="274.3" stroke="#1a1a1a" stroke-width="1.5"/>
<line x1="676.5" y1="276.8" x2="676.5" y2="272.3" stroke="#1a1a1a" stroke-width="1.5"/>
<line x1="698.6" y1="276.8" x2="698.6" y2="274.3" stroke="#1a1a1a" stroke-width="1.5"/>
<line x1="720.8" y1="276.8" x2="720.8" y2="272.3" stroke="#1a1a1a" stroke-width="1.5"/>
<line x1="742.9" y1="276.8" x2="742.9" y2="274.3" stroke="#1a1a1a" stroke-width="1.5"/>
<line x1="765" y1="276.8" x2="765" y2="272.3" stroke="#1a1a1a" stroke-width="1.5"/>
<line x1="499.5" y1="263.1" x2="502" y2="263.1" stroke="#1a1a1a" stroke-width="1.5"/>
<line x1="499.5" y1="234.8" x2="504" y2="234.8" stroke="#1a1a1a" stroke-width="1.5"/>
<line x1="499.5" y1="206.5" x2="502" y2="206.5" stroke="#1a1a1a" stroke-width="1.5"/>
<line x1="499.5" y1="178.2" x2="504" y2="178.2" stroke="#1a1a1a" stroke-width="1.5"/>
<line x1="499.5" y1="150" x2="502" y2="150" stroke="#1a1a1a" stroke-width="1.5"/>
<line x1="499.5" y1="121.7" x2="504" y2="121.7" stroke="#1a1a1a" stroke-width="1.5"/>
<line x1="499.5" y1="93.4" x2="502" y2="93.4" stroke="#1a1a1a" stroke-width="1.5"/>
<line x1="499.5" y1="65.2" x2="504" y2="65.2" stroke="#1a1a1a" stroke-width="1.5"/>
<g font-family='"Liberation Sans", sans-serif' stroke-width="0.25">
<text x="437.2" y="18.3" textLength="16.7" lengthAdjust="spacingAndGlyphs" fill="#000" stroke="#000"><tspan font-size="26" font-weight="bold">b</tspan></text>
<text x="468.4" y="69.6" textLength="25.8" lengthAdjust="spacingAndGlyphs" fill="#1a1a1a" stroke="#1a1a1a"><tspan font-size="15.5">100</tspan></text>
<text x="485.6" y="126.8" textLength="8.4" lengthAdjust="spacingAndGlyphs" fill="#1a1a1a" stroke="#1a1a1a"><tspan font-size="15.5">0</tspan></text>
<text x="459.5" y="183.2" textLength="34.7" lengthAdjust="spacingAndGlyphs" fill="#1a1a1a" stroke="#1a1a1a"><tspan font-size="15.5">−100</tspan></text>
<text x="459.5" y="239.3" textLength="34.7" lengthAdjust="spacingAndGlyphs" fill="#1a1a1a" stroke="#1a1a1a"><tspan font-size="15.5">−200</tspan></text>
<text x="484.9" y="293.6" textLength="30.8" lengthAdjust="spacingAndGlyphs" fill="#1a1a1a" stroke="#1a1a1a"><tspan font-size="15.5">−1.5</tspan></text>
<text x="529.1" y="293.6" textLength="30.5" lengthAdjust="spacingAndGlyphs" fill="#1a1a1a" stroke="#1a1a1a"><tspan font-size="15.5">−1.0</tspan></text>
<text x="573.2" y="293.6" textLength="30.4" lengthAdjust="spacingAndGlyphs" fill="#1a1a1a" stroke="#1a1a1a"><tspan font-size="15.5">−0.5</tspan></text>
<text x="621.7" y="293.6" textLength="20.9" lengthAdjust="spacingAndGlyphs" fill="#1a1a1a" stroke="#1a1a1a"><tspan font-size="15.5">0.0</tspan></text>
<text x="666.2" y="293.6" textLength="21.6" lengthAdjust="spacingAndGlyphs" fill="#1a1a1a" stroke="#1a1a1a"><tspan font-size="15.5">0.5</tspan></text>
<text x="710.2" y="293.6" textLength="21.3" lengthAdjust="spacingAndGlyphs" fill="#1a1a1a" stroke="#1a1a1a"><tspan font-size="15.5">1.0</tspan></text>
<text x="753.9" y="293.6" textLength="21.7" lengthAdjust="spacingAndGlyphs" fill="#1a1a1a" stroke="#1a1a1a"><tspan font-size="15.5">1.5</tspan></text>
<text x="585.3" y="322" textLength="111.2" lengthAdjust="spacingAndGlyphs" fill="#1a1a1a" stroke="#1a1a1a"><tspan font-size="15.5" font-style="italic">E</tspan><tspan font-size="15.5"> / </tspan><tspan font-size="15.5" font-style="italic">V</tspan><tspan font-size="15.5"> versus SCE</tspan></text>
<text transform="translate(453,208.5) rotate(-90)" x="1.7" y="0" textLength="72.9" lengthAdjust="spacingAndGlyphs" fill="#1a1a1a" stroke="#1a1a1a"><tspan font-size="15.5" font-style="italic">j</tspan><tspan font-size="15.5"> (µA cm</tspan><tspan font-size="10.5" dy="-5.5">−2</tspan><tspan font-size="15.5" dy="5.5">)</tspan></text>
<text x="539.6" y="93.2" textLength="16.3" lengthAdjust="spacingAndGlyphs" fill="#1a1a1a" stroke="#1a1a1a"><tspan font-size="14">x5</tspan></text>
<text x="641.6" y="107.3" textLength="24.9" lengthAdjust="spacingAndGlyphs" fill="#1a1a1a" stroke="#1a1a1a"><tspan font-size="14">x30</tspan></text>
<text x="564" y="159.6" textLength="43.5" lengthAdjust="spacingAndGlyphs" fill="#2a2ad2" stroke="#2a2ad2"><tspan font-size="15.5">NaOH</tspan></text>
<text x="642.4" y="159.4" textLength="44.2" lengthAdjust="spacingAndGlyphs" fill="#e0262e" stroke="#e0262e"><tspan font-size="15.5">HClO</tspan><tspan font-size="11" dy="4">4</tspan></text>
<text x="533.5" y="185.6" textLength="26" lengthAdjust="spacingAndGlyphs" fill="#1a1a1a" stroke="#1a1a1a"><tspan font-size="15.5" font-style="italic">P</tspan><tspan font-size="11.5" dy="3">red</tspan></text>
<text x="747.4" y="84" textLength="24" lengthAdjust="spacingAndGlyphs" fill="#1a1a1a" stroke="#1a1a1a"><tspan font-size="15.5" font-style="italic">P</tspan><tspan font-size="11.5" dy="3.5">oxi</tspan></text>
<text x="512.5" y="258.2" textLength="17.7" lengthAdjust="spacingAndGlyphs" fill="#1a1a1a" stroke="#1a1a1a"><tspan font-size="15.5">H</tspan><tspan font-size="11.5" dy="5.5">2</tspan></text>
</g>
<line x1="534.8" y1="263.8" x2="534.8" y2="249" stroke="#1a1a1a" stroke-width="1.7"/><path d="M533,251.5 L536.6,251.5 L534.8,244.2 Z" fill="#1a1a1a"/>
</svg>
</body></html>
